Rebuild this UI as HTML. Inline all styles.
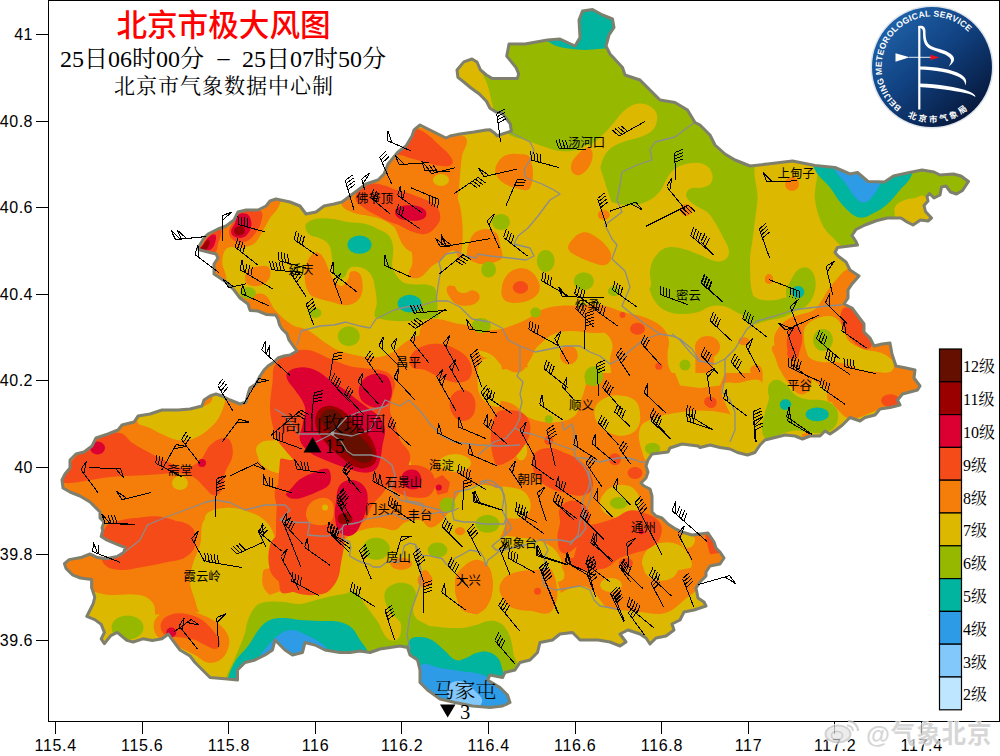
<!DOCTYPE html>
<html><head><meta charset="utf-8"><title>北京市极大风图</title>
<style>html,body{margin:0;padding:0;background:#fff;}body{width:1000px;height:756px;position:relative;overflow:hidden;}</style>
</head><body>
<svg width="1000" height="756" viewBox="0 0 1000 756" style="position:absolute;left:0;top:0">
<defs>
<clipPath id="bj"><polygon points="457,70 463.8,61.9 472,59 477,62 480.5,70 486.4,75 492.4,78.6 502,78.6 511.4,78.6 517.4,78.6 518.6,73.8 516.2,67.9 511.4,61.9 506.7,56 507.9,50 509,44 525,44 547.5,40 560,39 575,46 580,37.5 579,20 582.5,11 592.5,9.5 602.5,15 612.5,19 614,27.5 609,35 606,46 610,54 622.5,67.5 625,75 640,80 647.5,87.5 660,100 675,102.5 687.5,110 695,122.5 700,125 710,135 715,145 725,154 735,160 750,166 767.5,164 792.5,161 815,165.5 835,167.5 850,174 857.5,172.5 868,181.5 884.5,182 893.5,176 907,173 922,170 934,172 940,175 953.5,174 961,176 968.5,181.5 965.5,186 962.5,190.5 956.5,194 950.5,192 946,186 941.5,187 940,195 934,198 929.5,193.5 927,196.5 928,201 924,205.5 925.5,211.5 931.5,218 928,221 920.5,220 913,225 907,222 901,218 887.5,218 877,220.5 865,225 856,229.5 852,235.5 856,241.5 857.5,245 837.5,247.5 835,252.5 838,256 846,262 850,270 859,276 852,284 848,290 848,298 844,304 852,308 858,316 864,324 864,332 870,338 874,346 882,344 890,343 892,354 896,366 906,368 915,370 914,378 920,386 917.5,390 902.5,394 897.5,400 900,405 890,407.5 880,409 875,415 865,417.5 860,421 850,417.5 842.5,425 836,430 830,434 825,431 820,436 810,436 802.5,439 795,436 785,435 775,437.5 765,440 760,445 755,452.5 747.5,455 737.5,452.5 730,449 720,447.5 710,445 700,447.5 698,446 682,444 670,448 668,452 660,453 652,454 648,460 646,466 648,472 646,478 641,483 644,486 650,489 652,496 652,506 652,512 656,516 662,518 668,524 674,528 682,532 692,535 700,534 708,533 714,542 716,548 720,552 724,558 720,564 710,566 706,572 706,576 700,582 696,588 698,598 704,602 706,606 694,610 684,612 680,620 672,624 674,630 666,636 656,638 650,644 646,638 640,634 628,630 620,634 626,642 620,646 610,642 598,640 590,640 580,640 572.5,632.5 560,634 552.5,640 540,642.5 537.5,652.5 530,660 520,662.5 515,670 505,672.5 502.5,677.5 490,675 487.5,680 500,687.5 507.5,695 510,702.5 502.5,706 490,707.5 472.5,706 455,702.5 440,699 427.5,690 420,682.5 420,670 417.5,660 410,655 407.5,647.5 400,646 390,647.5 380,649 370,652.5 360,651 350,652.5 340,652.5 325,650 315,645 305,642.5 302.5,652.5 292.5,655 285,650 275,640 272.5,650 265,655 255,660 245,662.5 237.5,670 237.5,680 227.5,679 210,677.5 202.5,670 195,662.5 190,656 180,650 171.6,638.8 168.4,634 162,638.8 152.4,640.4 142.8,638.8 133.2,642 126.8,640.4 117.2,632.4 110.8,635.6 104.4,643.6 101.2,638.8 104.4,632.4 101.2,624.4 94.8,619.6 86.8,616.4 90,610 93.2,603.6 94.8,597.2 91.6,587.6 91.6,579.6 80.4,578 72.4,574.8 66,568.4 64.4,563.6 69.2,559.6 82,557.2 90,554 96.4,557.2 106,558.8 117.2,556.4 123.6,552.4 125.2,547.6 117.2,544.4 106,539.6 101.2,536.4 102.8,530 102,528 104,522 100,518 100,512 90,502 80,496 70,492 63,488 62,480 65,474 70,468 70,460 76,454 84,452 92,446 96,438 108,434 118,430 122,425 134,422 138,416 150,414 162,410 178,410 190,409 202,406 204,400 210,396 216,394 222,396 230,400 240,404 246,402 248,394 250,388 256,384 260,376 264,370 268,366 274,362 278,358 284,356 290,355 297,351 293,345.6 289,340 286.8,333.6 282,329 279.6,325 278,319 275.6,315 266,314.4 258,311 250,310.4 248,304 240,298 234,290 226,282 220,278 214,274 214,264 218,258 216,254 208,252 200,250 198,248 204,238 208,234 218,229 226,226 234,220 238,212 246,210 258,210 266,206 270,201 276,199 290,202 300,206 306,214 316,212 324,206 334,204 342,202 350,196 358,190 366,184 378,180 384,174 388,164 398,152 406,146 412,136 414,130 420,125 430,130 438,134 446,138 450,136 460,134 474,132 486,130 490,129.8 494.8,133.3 497,135.7 511.4,131 510.2,123.8 506.7,119 502,113 496,112 490,108.3 486.4,101.2 479.3,94 471,88 463.8,82 457.9,77.4"/></clipPath>
<linearGradient id="lg" x1="0.15" y1="0.1" x2="0.85" y2="0.9"><stop offset="0" stop-color="#1f62a8"/><stop offset="0.45" stop-color="#114282"/><stop offset="1" stop-color="#06173a"/></linearGradient>
</defs>
<g clip-path="url(#bj)">
<rect x="0" y="0" width="1000" height="756" fill="#dcb900"/>
<path d="M470.0,40.0C472.3,53.2 478.2,62.5 483.0,75.0C484.5,78.9 486.4,81.7 487.6,85.7C490.2,94.1 490.9,101.1 493.6,109.5C495.4,115.3 496.7,119.9 500.0,125.0C502.8,129.3 505.6,132.4 510.0,135.0C514.9,137.9 519.6,138.2 525.0,140.0C532.2,142.5 537.7,144.7 545.0,147.0C550.3,148.7 554.4,150.5 560.0,151.0C566.3,151.6 571.3,151.0 577.5,150.0C582.2,149.2 587.5,142.0 590.0,146.0C604.9,170.6 605.6,195.1 620.0,220.0C627.6,233.2 643.7,236.1 650.0,250.0C655.0,261.2 647.6,271.8 648.8,284.0C649.4,290.7 651.2,296.0 655.0,301.5C658.2,306.3 662.2,309.3 667.5,311.5C673.4,313.9 678.6,314.0 685.0,314.0C690.5,314.0 694.8,313.1 700.0,311.5C703.9,310.3 706.1,307.3 710.0,306.5C715.3,305.4 719.8,305.2 725.0,306.5C730.9,308.0 734.4,311.7 740.0,314.0C745.3,316.2 749.3,319.0 755.0,319.0C762.4,319.0 767.8,315.6 775.0,314.0C784.0,312.0 791.1,311.3 800.0,309.0C810.9,306.2 819.5,304.0 830.0,300.0C837.5,297.1 845.3,296.5 850.0,290.0C860.4,275.7 853.0,250.1 870.0,245.0C914.8,231.6 978.1,286.3 1000.0,245.0C1041.3,167.1 1080.1,37.0 1000.0,0.0C826.8,-80.1 660.3,-14.4 470.0,0.0C455.6,1.1 467.5,25.8 470.0,40.0Z" fill="#96b900"/>
<path d="M525.0,152.5C525.0,143.5 541.0,151.2 550.0,151.2C555.4,151.2 559.6,152.7 565.0,152.5C569.6,152.3 573.1,151.3 577.5,150.0C582.1,148.6 585.9,147.6 590.0,145.0C595.4,141.6 599.1,138.2 603.8,133.8C608.1,129.6 611.0,125.8 615.0,121.2C618.6,117.2 620.7,113.3 625.0,110.0C629.0,106.9 632.5,104.5 637.5,103.8C642.0,103.1 646.0,104.0 650.0,106.2C653.5,108.3 656.3,111.0 657.0,115.0C657.8,120.0 656.6,124.5 653.8,128.8C651.0,132.8 647.0,134.3 642.5,136.2C636.5,138.9 631.1,138.9 625.0,141.2C619.4,143.4 614.6,144.9 610.0,148.8C606.3,151.9 604.3,155.5 602.5,160.0C600.5,165.1 600.0,169.5 599.5,175.0C599.1,179.5 598.8,183.2 600.0,187.5C601.3,192.0 602.9,195.6 606.2,198.8C609.5,201.8 613.2,202.7 617.5,203.8C622.8,205.0 627.1,205.4 632.5,205.0C638.0,204.5 642.5,203.7 647.5,201.2C652.7,198.7 656.3,195.7 660.0,191.2C663.6,186.9 664.4,182.2 667.5,177.5C669.8,174.0 671.6,171.1 675.0,168.8C679.0,166.0 682.7,164.6 687.5,163.8C692.8,162.8 697.4,162.1 702.5,163.8C706.5,165.0 709.5,167.5 711.2,171.2C713.0,174.9 713.2,178.9 711.2,182.5C709.5,185.7 706.0,186.5 702.5,187.5C698.2,188.8 694.0,186.6 690.0,188.8C687.3,190.2 685.4,193.4 686.2,196.2C687.6,200.5 691.5,202.3 695.0,205.0C699.2,208.2 703.6,209.0 707.5,212.5C710.9,215.5 712.6,218.7 715.0,222.5C718.0,227.3 720.0,231.2 722.5,236.2C724.9,241.1 727.9,244.6 728.8,250.0C729.3,253.2 728.7,256.6 726.2,258.8C723.5,261.2 719.9,261.8 716.2,261.2C710.0,260.4 705.9,257.2 700.0,255.0C693.7,252.7 689.0,250.3 682.5,248.8C677.2,247.5 672.8,246.4 667.5,247.5C663.3,248.3 660.3,250.6 657.5,253.8C653.8,258.0 651.5,262.1 650.0,267.5C647.9,275.0 655.1,287.4 647.5,289.0C613.2,296.4 573.4,315.1 550.0,289.0C516.6,251.8 525.0,202.5 525.0,152.5Z" fill="#dcb900"/>
<path d="M440.0,50.0C446.1,37.2 465.8,52.9 478.0,60.0C482.9,62.9 481.0,69.7 483.0,75.0C484.5,78.9 486.4,81.7 487.6,85.7C490.2,94.1 490.9,101.1 493.6,109.5C495.4,115.3 498.8,119.1 500.0,125.0C501.1,130.3 505.2,138.7 500.0,140.0C479.0,145.2 452.0,158.0 440.0,140.0C422.0,113.0 426.1,79.3 440.0,50.0Z" fill="#dcb900"/>
<path d="M760.0,160.0C775.1,148.9 796.9,149.0 812.0,160.0C823.7,168.5 812.7,185.7 815.0,200.0C816.5,209.3 818.3,216.6 822.5,225.0C825.6,231.3 830.3,234.8 835.0,240.0C838.4,243.8 841.6,246.2 845.0,250.0C848.8,254.2 853.4,256.6 855.0,262.0C859.0,275.2 870.5,291.0 860.0,300.0C843.4,314.2 821.6,305.5 800.0,309.0C790.9,310.5 784.0,315.8 775.0,314.0C766.4,312.3 758.8,307.9 755.0,300.0C749.1,287.7 750.6,276.1 750.0,262.5C749.7,254.4 751.5,248.1 752.5,240.0C754.2,225.6 756.1,214.4 757.5,200.0C758.8,185.6 748.4,168.5 760.0,160.0Z" fill="#dcb900"/>
<path d="M895.0,216.0C895.0,212.8 893.6,209.9 895.0,207.0C896.5,203.9 899.4,202.4 902.5,201.0C906.5,199.1 910.1,198.9 914.5,198.0C918.2,197.3 922.4,193.7 925.0,196.5C929.0,201.0 926.4,207.2 928.0,213.0C928.6,215.3 930.6,216.6 931.0,219.0C931.7,222.9 934.8,228.8 931.0,230.0C918.6,233.8 907.1,234.7 895.0,230.0C890.3,228.2 895.0,221.0 895.0,216.0Z" fill="#dcb900"/>
<path d="M575.0,157.5C578.9,153.3 582.0,149.1 587.5,147.5C589.9,146.8 592.1,150.0 592.5,152.5C593.1,157.0 592.2,161.0 590.0,165.0C587.5,169.5 584.7,173.0 580.0,175.0C577.4,176.1 574.4,174.6 572.5,172.5C570.7,170.4 570.8,167.7 571.2,165.0C571.7,162.0 572.9,159.7 575.0,157.5Z" fill="#f57d0a"/>
<ellipse cx="603.8" cy="215.0" rx="6.0" ry="5.0" fill="#f57d0a"/>
<path d="M570.0,242.5C573.6,238.0 576.9,233.9 582.5,232.5C587.1,231.4 591.0,233.8 595.0,236.2C600.2,239.4 603.8,242.7 607.5,247.5C609.8,250.6 611.8,253.7 611.2,257.5C610.8,261.0 608.4,264.1 605.0,265.0C600.6,266.2 596.9,263.9 592.5,262.5C586.9,260.7 582.7,259.0 577.5,256.2C574.1,254.4 570.6,253.4 568.8,250.0C567.4,247.6 568.3,244.7 570.0,242.5Z" fill="#f57d0a"/>
<ellipse cx="686.2" cy="210.0" rx="6.0" ry="6.0" fill="#f57d0a"/>
<ellipse cx="768.8" cy="279.5" rx="4.0" ry="4.0" fill="#f57d0a"/>
<ellipse cx="792.0" cy="184.0" rx="7.0" ry="7.0" fill="#f57d0a"/>
<path d="M282.9,195.0C285.8,195.3 281.5,199.9 280.4,202.5C279.3,205.3 278.3,207.6 276.7,210.1C274.7,213.0 272.4,214.7 270.4,217.6C268.3,220.6 267.2,223.2 265.4,226.4C263.5,229.6 262.2,232.1 260.3,235.2C258.6,238.0 257.7,240.6 255.3,242.7C253.0,244.8 250.7,245.6 247.8,246.5C244.7,247.4 242.2,247.6 239.0,247.8C235.8,247.9 233.3,246.6 230.2,247.1C228.1,247.5 226.4,248.5 225.2,250.3C223.5,252.6 223.1,255.0 222.6,257.8C222.2,260.5 222.2,262.7 222.6,265.4C223.1,268.2 224.7,270.1 225.2,272.9C225.6,275.6 227.5,279.1 225.2,280.4C219.6,283.6 213.6,285.0 207.6,282.9C201.5,280.9 195.9,276.7 195.0,270.4C191.2,243.5 174.4,212.7 195.0,195.0C219.0,174.4 251.4,192.2 282.9,195.0Z" fill="#f57d0a"/>
<path d="M247.8,270.4C250.4,267.5 254.0,267.3 257.8,266.6C261.4,265.9 264.6,265.0 267.9,266.6C270.0,267.7 270.4,270.5 270.4,272.9C270.4,275.7 269.7,278.2 267.9,280.4C265.8,283.0 263.5,284.6 260.3,285.5C256.8,286.4 253.7,286.6 250.3,285.5C247.8,284.6 245.7,283.0 245.3,280.4C244.6,276.7 245.3,273.1 247.8,270.4Z" fill="#f57d0a"/>
<path d="M341.6,204.4C340.5,199.9 344.0,195.5 348.0,193.2C355.7,188.7 363.1,187.4 372.0,186.8C397.9,185.1 418.7,181.3 444.0,186.8C452.8,188.7 458.2,197.2 460.0,206.0C464.2,226.3 462.9,243.1 460.0,263.6C459.3,268.7 458.7,251.6 453.6,250.8C447.9,249.9 445.5,257.1 440.8,260.4C437.4,262.8 434.4,264.1 431.2,266.8C427.4,269.9 425.8,273.9 421.6,276.4C418.6,278.2 415.4,278.8 412.0,278.0C410.0,277.5 408.8,275.3 408.8,273.2C408.8,270.1 411.5,268.3 412.0,265.2C412.7,261.2 412.5,258.0 412.0,254.0C411.4,249.3 411.2,245.3 408.8,241.2C406.4,237.0 402.8,234.9 399.2,231.6C395.9,228.6 393.3,226.1 389.6,223.6C386.4,221.5 383.6,220.1 380.0,218.8C375.5,217.2 371.8,216.7 367.2,215.6C362.0,214.4 357.7,214.5 352.8,212.4C348.3,210.4 342.8,209.2 341.6,204.4Z" fill="#f57d0a"/>
<path d="M309.6,257.2C311.7,254.5 314.3,252.0 317.6,252.4C320.8,252.8 322.3,256.1 324.0,258.8C326.4,262.5 327.0,266.0 328.8,270.0C330.4,273.5 331.2,276.6 333.6,279.6C335.9,282.5 337.9,286.0 341.6,286.0C344.9,286.0 346.2,282.3 348.0,279.6C349.7,277.0 348.5,273.1 351.2,271.6C353.8,270.1 357.1,271.1 359.2,273.2C361.8,275.8 362.0,279.2 362.4,282.8C362.9,286.8 362.9,290.2 361.6,294.0C360.5,297.3 358.9,300.0 356.0,302.0C352.5,304.3 349.0,305.2 344.8,305.2C340.1,305.2 336.6,303.2 332.0,302.0C327.4,300.8 323.7,300.4 319.2,298.8C315.6,297.5 311.9,297.1 309.6,294.0C306.3,289.6 305.4,285.0 304.8,279.6C304.3,275.0 305.4,271.3 306.4,266.8C307.2,263.2 307.4,260.1 309.6,257.2Z" fill="#f57d0a"/>
<path d="M406.0,136.0C408.4,132.7 410.0,129.0 414.0,128.0C419.6,126.6 424.3,128.7 430.0,130.0C437.3,131.6 442.7,134.4 450.0,136.0C455.7,137.3 463.0,133.0 466.0,138.0C469.4,143.7 463.0,149.4 462.0,156.0C460.9,163.1 460.7,168.8 460.0,176.0C459.3,183.2 459.2,188.9 458.0,196.0C457.0,201.9 455.1,206.2 454.0,212.0C452.9,217.7 452.8,222.3 452.0,228.0C451.4,232.3 450.7,235.7 450.0,240.0C449.3,244.0 451.9,250.1 448.0,251.2C434.8,254.9 422.0,257.7 410.0,251.2C398.3,244.9 398.8,230.0 390.0,220.0C380.6,209.2 363.2,207.9 360.0,194.0C357.9,184.6 373.6,183.3 380.0,176.0C384.5,170.9 386.3,165.7 390.0,160.0C395.7,151.3 399.8,144.3 406.0,136.0Z" fill="#f57d0a"/>
<path d="M496.0,166.0C497.9,161.8 500.0,158.2 504.0,156.0C508.5,153.6 512.9,153.6 518.0,154.0C522.5,154.3 528.5,153.7 530.0,158.0C533.6,168.2 534.6,178.2 530.0,188.0C527.9,192.6 520.9,189.1 516.0,188.0C510.6,186.9 506.5,185.1 502.0,182.0C499.1,179.9 497.3,177.4 496.0,174.0C495.0,171.3 494.8,168.6 496.0,166.0Z" fill="#f57d0a"/>
<path d="M470.0,240.0C471.6,235.2 475.2,231.6 480.0,230.0C485.2,228.3 490.5,228.9 495.0,232.0C498.8,234.7 499.2,239.4 500.0,244.0C501.0,249.7 505.1,257.3 500.0,260.0C490.5,265.1 479.0,266.0 470.0,260.0C464.0,256.0 467.7,246.8 470.0,240.0Z" fill="#f57d0a"/>
<path d="M250.0,295.0C255.3,294.0 260.4,292.2 265.0,295.0C270.6,298.3 270.6,305.2 275.0,310.0C280.6,316.1 285.4,320.7 292.5,325.0C297.3,328.0 302.5,327.3 307.5,330.0C314.3,333.7 318.6,338.2 325.0,342.5C329.4,345.4 332.7,348.0 337.5,350.0C343.5,352.5 348.6,353.7 355.0,355.0C362.1,356.4 367.8,358.0 375.0,357.5C381.5,357.1 386.6,355.4 392.5,352.5C397.7,349.9 400.1,345.6 405.0,342.5C410.1,339.3 414.2,336.7 420.0,335.0C427.0,333.0 432.8,332.1 440.0,332.5C448.3,333.0 454.9,334.2 462.5,337.5C467.8,339.8 470.7,343.7 475.0,347.5C478.8,350.9 480.0,356.5 485.0,357.5C499.1,360.3 521.1,343.6 525.0,357.5C538.9,406.9 571.0,477.2 525.0,500.0C432.3,546.0 322.5,559.1 237.5,500.0C178.4,458.9 233.1,371.9 237.5,300.0C237.8,295.2 245.2,295.9 250.0,295.0Z" fill="#f57d0a"/>
<path d="M37.5,390.5C82.6,339.4 157.2,372.0 225.0,365.5C251.9,362.9 280.9,346.4 300.0,365.5C322.5,388.0 310.6,421.2 312.5,453.0C315.1,497.9 353.5,559.4 312.5,578.0C222.4,619.0 119.3,633.8 37.5,578.0C-18.3,540.0 -7.2,441.1 37.5,390.5Z" fill="#f57d0a"/>
<polygon points="495,373 762.5,373 762.5,578 495,578" fill="#f57d0a"/>
<polygon points="536,556 720,556 720,620 536,620" fill="#f57d0a"/>
<path d="M625.0,312.5C632.2,314.5 638.1,314.7 645.0,317.5C651.7,320.2 657.2,322.5 662.5,327.5C666.2,331.0 667.9,335.1 668.8,340.0C669.7,345.3 667.3,349.6 667.5,355.0C667.7,360.5 667.5,365.2 670.0,370.0C672.2,374.2 675.5,377.1 680.0,378.8C686.8,381.3 692.8,380.1 700.0,381.2C707.2,382.4 712.9,383.2 720.0,385.0C725.5,386.4 729.7,387.8 735.0,390.0C740.6,392.3 745.0,394.2 750.0,397.5C754.5,400.5 758.8,402.7 761.2,407.5C762.9,410.7 761.8,414.3 760.0,417.5C757.5,421.9 754.9,426.0 750.0,427.5C744.8,429.1 740.3,426.5 735.0,425.0C729.4,423.4 725.8,419.7 720.0,418.8C714.7,417.9 710.4,420.4 705.0,420.0C699.5,419.5 695.5,416.7 690.0,416.2C684.6,415.8 680.1,415.7 675.0,417.5C670.8,419.0 668.6,422.3 665.0,425.0C661.4,427.7 659.1,430.7 655.0,432.5C651.7,434.0 648.4,434.9 645.0,433.8C641.1,432.4 638.6,429.6 636.2,426.2C633.1,421.8 632.5,417.3 630.0,412.5C627.6,407.9 625.0,404.6 622.5,400.0C620.1,395.6 618.2,392.2 616.2,387.5C614.1,382.2 612.5,378.1 611.2,372.5C610.2,368.1 609.8,364.5 610.0,360.0C610.2,354.5 613.0,350.4 612.5,345.0C612.1,341.0 610.3,337.8 607.5,335.0C604.7,332.2 601.4,331.0 597.5,330.0C592.2,328.7 587.9,328.8 582.5,328.8C576.2,328.8 571.3,329.4 565.0,330.0C557.8,330.7 550.5,337.3 545.0,332.5C539.6,327.8 539.6,317.2 545.0,312.5C553.3,305.2 564.1,307.7 575.0,306.2C583.9,305.0 591.1,303.9 600.0,305.0C609.3,306.2 615.9,310.0 625.0,312.5Z" fill="#f57d0a"/>
<ellipse cx="707.5" cy="347.0" rx="12.5" ry="11.0" fill="#f57d0a"/>
<ellipse cx="568.8" cy="355.0" rx="9.0" ry="9.5" fill="#f57d0a"/>
<ellipse cx="743.8" cy="341.2" rx="5.5" ry="4.0" fill="#f57d0a"/>
<ellipse cx="757.5" cy="372.5" rx="5.0" ry="5.0" fill="#f57d0a"/>
<path d="M774.0,340.0C774.0,334.5 776.8,330.4 780.0,326.0C782.7,322.3 786.0,320.2 790.0,318.0C794.0,315.8 797.7,315.4 802.0,314.0C806.3,312.6 810.3,312.6 814.0,310.0C817.8,307.4 819.4,303.8 822.0,300.0C824.4,296.6 825.6,293.4 828.0,290.0C830.6,286.2 832.9,283.4 836.0,280.0C839.4,276.2 841.5,272.4 846.0,270.0C854.0,265.7 864.1,255.1 870.0,262.0C881.4,275.4 877.6,292.5 880.0,310.0C881.2,318.6 877.6,325.7 880.0,334.0C881.4,338.9 887.2,339.7 890.0,344.0C893.8,350.0 893.5,356.6 898.0,362.0C901.1,365.7 906.1,365.2 910.0,368.0C914.1,371.0 918.6,373.1 920.0,378.0C922.4,386.3 928.3,399.8 920.0,402.0C888.7,410.3 862.1,406.1 830.0,402.0C825.5,401.4 828.6,393.7 826.0,390.0C823.4,386.2 819.6,384.9 816.0,382.0C812.4,379.1 809.7,376.8 806.0,374.0C803.9,372.4 802.1,371.6 800.0,370.0C796.3,367.2 793.6,364.9 790.0,362.0C786.4,359.1 782.7,357.7 780.0,354.0C776.8,349.6 774.0,345.5 774.0,340.0Z" fill="#f57d0a"/>
<ellipse cx="769.0" cy="279.0" rx="4.0" ry="5.0" fill="#f57d0a"/>
<ellipse cx="756.0" cy="370.0" rx="6.0" ry="5.0" fill="#f57d0a"/>
<path d="M695.4,382.2C698.5,376.3 707.1,379.4 713.8,379.9C719.0,380.3 722.6,383.0 727.6,384.5C734.1,386.4 739.6,386.8 746.0,389.1C751.2,390.9 755.8,392.1 759.8,396.0C762.9,399.1 763.9,403.0 764.4,407.5C764.8,411.7 763.8,415.1 762.1,419.0C760.4,422.7 758.3,425.5 755.2,428.2C752.4,430.6 749.7,433.1 746.0,432.8C740.5,432.2 736.9,428.7 732.2,425.9C728.6,423.7 726.8,420.5 723.0,419.0C718.3,417.1 714.2,417.5 709.2,416.7C704.2,415.8 697.3,419.0 695.4,414.4C691.1,403.6 689.9,392.4 695.4,382.2Z" fill="#f57d0a"/>
<polygon points="695.402,345.402 713.793,345.402 713.793,363.793 709.195,375.287 695.402,377.586" fill="#f57d0a"/>
<path d="M773.6,345.4C785.9,340.5 798.0,340.6 810.3,345.4C816.0,347.6 814.5,355.5 814.9,361.5C815.4,367.3 814.0,371.9 812.6,377.6C811.5,382.7 811.5,387.4 808.0,391.4C805.8,394.0 802.0,394.9 798.9,393.7C794.5,392.0 792.6,388.1 789.7,384.5C785.9,379.8 783.3,375.9 780.5,370.7C778.3,366.8 777.0,363.5 775.9,359.2C774.5,354.3 768.9,347.3 773.6,345.4Z" fill="#f57d0a"/>
<polygon points="847.126,345.402 890.805,345.402 893.103,361.494 879.31,363.793 860.92,361.494" fill="#f57d0a"/>
<path d="M828.7,389.1C831.8,384.8 837.3,384.9 842.5,384.5C849.2,384.0 854.2,386.8 860.9,386.8C869.2,386.8 875.9,386.8 883.9,384.5C890.3,382.6 894.5,379.1 900.0,375.3C902.9,373.3 903.4,368.7 906.9,368.4C915.3,367.7 923.6,367.3 929.9,373.0C934.2,376.9 934.0,385.0 929.9,389.1C923.8,395.2 914.6,392.1 906.9,396.0C902.7,398.1 901.9,403.1 897.7,405.2C893.2,407.4 888.8,406.1 883.9,407.5C879.6,408.6 876.6,410.4 872.4,412.1C868.3,413.7 865.2,415.4 860.9,416.7C856.9,417.9 853.5,420.2 849.4,419.0C844.3,417.4 841.7,413.5 837.9,409.8C835.0,406.8 832.7,404.4 831.0,400.6C829.3,396.7 826.3,392.5 828.7,389.1Z" fill="#f57d0a"/>
<ellipse cx="757.5" cy="371.8" rx="4.0" ry="4.0" fill="#f57d0a"/>
<ellipse cx="806.9" cy="435.5" rx="5.0" ry="2.5" fill="#f57d0a"/>
<ellipse cx="441.0" cy="180.0" rx="8.0" ry="6.0" fill="#dcb900"/>
<path d="M480.0,362.5C482.0,359.0 486.1,358.5 490.0,357.5C493.5,356.6 499.3,354.0 500.0,357.5C503.5,374.2 503.5,388.3 500.0,405.0C499.3,408.5 493.2,406.6 490.0,405.0C485.4,402.7 482.3,399.6 480.0,395.0C477.6,390.1 477.5,385.5 477.5,380.0C477.5,373.6 476.9,368.1 480.0,362.5Z" fill="#dcb900"/>
<path d="M260.0,450.0C262.5,445.9 265.4,442.6 270.0,441.2C275.2,439.7 280.2,440.1 285.0,442.5C289.0,444.5 291.6,448.1 292.5,452.5C293.6,457.9 293.3,463.1 290.0,467.5C287.1,471.4 282.3,472.5 277.5,472.5C272.7,472.5 269.0,470.2 265.0,467.5C262.1,465.6 259.7,463.4 258.8,460.0C257.8,456.5 258.1,453.1 260.0,450.0Z" fill="#dcb900"/>
<path d="M390.0,460.0C391.3,457.0 394.3,455.5 397.5,455.0C401.2,454.5 404.6,455.2 407.5,457.5C410.2,459.7 411.2,462.8 411.2,466.2C411.2,469.7 410.3,473.0 407.5,475.0C404.6,477.1 401.0,477.0 397.5,476.2C394.5,475.6 391.8,474.1 390.5,471.2C388.8,467.6 388.4,463.7 390.0,460.0Z" fill="#dcb900"/>
<path d="M137.5,420.5C139.7,414.0 148.4,414.7 155.0,413.0C166.5,410.1 175.9,410.1 187.5,408.0C195.7,406.5 203.3,407.9 210.0,403.0C214.6,399.7 210.3,391.2 215.0,388.0C218.3,385.8 224.3,389.0 225.0,393.0C226.5,401.2 223.3,407.9 220.0,415.5C217.7,420.8 214.3,424.1 210.0,428.0C205.2,432.3 201.0,435.5 195.0,438.0C189.9,440.1 185.5,441.0 180.0,440.5C174.3,440.0 170.3,437.7 165.0,435.5C159.4,433.2 155.3,430.9 150.0,428.0C145.4,425.5 135.8,425.5 137.5,420.5Z" fill="#dcb900"/>
<ellipse cx="180.0" cy="483.0" rx="8.0" ry="7.0" fill="#dcb900"/>
<path d="M257.5,445.5C260.6,441.8 265.2,440.5 270.0,440.5C275.7,440.5 280.5,442.0 285.0,445.5C289.1,448.7 291.5,452.9 292.5,458.0C293.4,462.5 293.2,467.3 290.0,470.5C286.8,473.7 282.0,473.9 277.5,473.0C272.4,472.0 268.9,469.0 265.0,465.5C261.6,462.5 259.1,459.7 257.5,455.5C256.2,452.1 255.2,448.3 257.5,445.5Z" fill="#dcb900"/>
<path d="M207.5,513.0C212.7,509.1 218.5,508.4 225.0,508.0C232.2,507.5 238.1,508.3 245.0,510.5C252.7,512.9 259.1,515.1 265.0,520.5C270.3,525.4 272.9,531.1 275.0,538.0C276.6,543.2 275.9,547.7 275.0,553.0C274.1,558.6 275.5,566.5 270.0,568.0C252.6,572.7 237.4,572.7 220.0,568.0C214.5,566.5 216.8,558.4 215.0,553.0C213.2,547.6 211.8,543.4 210.0,538.0C208.2,532.6 205.6,528.7 205.0,523.0C204.6,519.3 204.5,515.2 207.5,513.0Z" fill="#dcb900"/>
<path d="M277.5,595.0C281.2,585.6 295.1,592.0 305.0,590.0C313.1,588.4 320.7,589.7 327.5,585.0C333.5,580.9 335.1,574.3 337.5,567.5C339.6,561.5 338.0,556.0 340.0,550.0C341.7,545.0 343.6,541.0 347.5,537.5C352.0,533.5 356.7,531.8 362.5,530.0C368.6,528.1 373.6,527.5 380.0,527.5C385.5,527.5 389.6,531.1 395.0,530.0C399.4,529.1 400.8,524.2 405.0,522.5C410.1,520.5 414.6,518.9 420.0,520.0C424.4,520.9 425.5,526.9 430.0,527.5C434.0,528.0 437.0,525.2 440.0,522.5C444.3,518.7 446.8,514.8 450.0,510.0C454.0,504.0 454.6,497.4 460.0,492.5C465.1,487.9 470.7,486.0 477.5,485.0C483.8,484.1 489.2,484.9 495.0,487.5C499.6,489.6 502.9,492.9 505.0,497.5C507.6,503.3 508.0,508.7 507.5,515.0C507.0,521.5 505.0,526.5 502.5,532.5C500.5,537.3 497.5,540.4 495.0,545.0C493.0,548.5 489.5,551.0 490.0,555.0C490.6,559.5 493.9,562.3 497.5,565.0C501.4,567.9 505.2,569.6 510.0,570.0C516.3,570.5 521.2,568.2 527.5,567.5C536.5,566.4 550.1,556.3 552.5,565.0C561.4,598.0 584.8,648.8 552.5,660.0C458.9,692.3 373.8,682.8 277.5,660.0C254.7,654.6 268.9,616.8 277.5,595.0Z" fill="#dcb900"/>
<path d="M77.5,595.0C84.6,585.7 98.3,595.0 110.0,595.0C120.8,595.0 129.4,593.1 140.0,595.0C145.2,595.9 149.4,598.3 152.5,602.5C155.3,606.2 155.0,610.4 155.0,615.0C155.0,619.6 153.8,623.1 152.5,627.5C151.1,632.1 151.4,637.1 147.5,640.0C143.1,643.3 138.0,642.5 132.5,642.5C126.1,642.5 121.3,640.5 115.0,640.0C109.6,639.6 105.4,640.4 100.0,640.0C91.9,639.5 81.1,644.8 77.5,637.5C70.7,623.8 68.2,607.2 77.5,595.0Z" fill="#dcb900"/>
<path d="M207.5,517.5C222.8,509.9 238.6,512.5 255.0,517.5C261.9,519.6 262.5,528.2 265.0,535.0C267.5,541.9 269.2,547.7 268.8,555.0C268.3,562.5 263.3,567.5 262.5,575.0C261.9,580.4 261.9,585.5 265.0,590.0C268.7,595.3 273.8,597.9 280.0,600.0C287.7,602.6 294.4,602.2 302.5,602.5C316.0,603.1 335.9,589.6 340.0,602.5C352.9,642.8 372.6,693.1 340.0,720.0C300.4,752.6 246.3,735.7 197.5,720.0C182.1,715.0 197.1,691.0 200.0,675.0C200.8,670.6 203.8,667.5 207.5,665.0C212.2,661.8 218.4,663.9 222.5,660.0C226.8,656.0 228.3,650.8 228.8,645.0C229.2,639.5 227.7,634.9 225.0,630.0C222.5,625.5 219.2,622.9 215.0,620.0C210.1,616.5 204.3,616.8 200.0,612.5C196.6,609.1 196.5,604.6 195.0,600.0C192.9,593.8 190.5,589.0 190.0,582.5C189.5,576.2 190.9,571.1 192.5,565.0C194.5,557.6 197.7,552.3 200.0,545.0C203.1,535.2 198.3,522.1 207.5,517.5Z" fill="#dcb900"/>
<path d="M487.5,373.0C522.2,363.5 551.9,367.5 587.5,373.0C592.9,373.8 586.3,382.7 585.0,388.0C583.6,393.5 581.9,397.7 580.0,403.0C578.3,407.6 578.5,412.2 575.0,415.5C570.7,419.5 565.7,420.6 560.0,421.8C553.8,422.9 548.7,422.9 542.5,421.8C535.9,420.6 530.8,418.9 525.0,415.5C520.6,412.9 519.4,408.1 515.0,405.5C510.1,402.6 505.6,401.5 500.0,400.5C495.6,399.7 489.4,404.6 487.5,400.5C483.4,391.5 478.0,375.6 487.5,373.0Z" fill="#dcb900"/>
<path d="M595.0,408.0C596.5,403.1 600.4,400.3 605.0,398.0C609.9,395.6 614.5,395.0 620.0,395.5C625.7,396.0 630.7,396.8 635.0,400.5C638.6,403.7 639.6,408.2 640.0,413.0C640.5,418.5 640.5,423.4 637.5,428.0C634.6,432.4 630.2,434.6 625.0,435.5C619.6,436.5 615.0,435.3 610.0,433.0C604.8,430.6 600.5,427.9 597.5,423.0C594.7,418.3 593.4,413.2 595.0,408.0Z" fill="#dcb900"/>
<path d="M640.0,428.0C642.2,421.9 649.0,420.6 655.0,418.0C661.8,415.1 667.7,414.2 675.0,413.0C683.9,411.5 691.0,410.5 700.0,410.5C709.0,410.5 716.1,411.3 725.0,413.0C730.6,414.0 734.4,417.2 740.0,418.0C748.0,419.1 758.5,410.9 762.5,418.0C769.6,430.6 770.1,445.8 762.5,458.0C757.7,465.6 746.4,459.2 737.5,458.0C732.7,457.4 729.8,453.6 725.0,453.0C716.1,451.8 709.0,453.0 700.0,453.0C691.0,453.0 683.9,451.8 675.0,453.0C670.2,453.6 667.0,456.2 662.5,458.0C658.0,459.8 654.7,464.2 650.0,463.0C645.6,461.9 643.7,457.3 642.5,453.0C640.0,444.3 637.0,436.5 640.0,428.0Z" fill="#dcb900"/>
<polygon points="675,373 725,373 720,385.5 700,388 680,385.5" fill="#dcb900"/>
<path d="M722.5,385.5C724.5,380.4 732.0,383.3 737.5,383.0C746.5,382.4 757.5,375.5 762.5,383.0C770.0,394.2 770.0,409.3 762.5,420.5C757.5,428.0 746.0,423.5 737.5,420.5C732.1,418.6 729.8,413.3 727.5,408.0C724.2,400.4 719.4,393.2 722.5,385.5Z" fill="#dcb900"/>
<path d="M602.5,495.5C605.4,491.7 608.1,488.5 612.5,486.8C617.5,484.7 622.2,484.2 627.5,485.5C631.9,486.6 635.1,489.2 637.5,493.0C639.9,496.9 641.0,501.0 640.0,505.5C639.0,509.9 636.4,513.3 632.5,515.5C627.7,518.2 623.0,518.5 617.5,518.0C612.7,517.6 608.7,516.2 605.0,513.0C601.9,510.4 600.6,507.0 600.0,503.0C599.6,500.2 600.8,497.8 602.5,495.5Z" fill="#dcb900"/>
<path d="M495.0,490.5C499.1,484.5 507.8,486.9 515.0,488.0C520.2,488.8 524.6,491.1 527.5,495.5C530.5,500.1 531.7,505.3 530.0,510.5C528.6,514.8 524.3,516.7 520.0,518.0C514.8,519.6 510.4,518.3 505.0,518.0C501.4,517.8 496.2,520.2 495.0,516.8C491.8,507.9 489.6,498.3 495.0,490.5Z" fill="#dcb900"/>
<path d="M495.0,540.5C502.7,532.8 514.2,537.5 525.0,538.0C532.4,538.4 538.3,539.9 545.0,543.0C550.2,545.4 554.5,548.1 557.5,553.0C560.3,557.7 565.3,566.7 560.0,568.0C537.2,573.5 516.6,577.1 495.0,568.0C485.9,564.1 488.0,547.5 495.0,540.5Z" fill="#dcb900"/>
<path d="M645.0,553.0C648.3,547.4 653.7,544.4 660.0,543.0C667.1,541.5 673.5,542.3 680.0,545.5C685.2,548.1 687.7,552.7 690.0,558.0C691.5,561.3 693.5,567.2 690.0,568.0C674.2,571.5 660.4,573.1 645.0,568.0C639.9,566.3 642.2,557.6 645.0,553.0Z" fill="#dcb900"/>
<ellipse cx="521.2" cy="450.5" rx="6.0" ry="10.0" fill="#dcb900"/>
<ellipse cx="585.0" cy="533.0" rx="4.0" ry="4.0" fill="#dcb900"/>
<ellipse cx="687.5" cy="540.5" rx="7.5" ry="7.5" fill="#dcb900"/>
<path d="M806.0,326.0C809.0,321.7 813.2,320.0 818.0,318.0C822.0,316.3 825.6,315.6 830.0,316.0C833.2,316.3 835.7,317.7 838.0,320.0C841.0,323.0 842.1,326.2 844.0,330.0C845.7,333.5 845.7,336.9 848.0,340.0C850.2,342.9 852.9,344.3 856.0,346.0C859.4,347.9 862.3,349.0 866.0,350.0C870.2,351.2 873.8,350.6 878.0,352.0C882.6,353.5 886.4,354.8 890.0,358.0C892.4,360.1 894.0,362.8 894.0,366.0C894.0,368.6 892.4,371.1 890.0,372.0C886.0,373.5 882.3,372.3 878.0,372.0C872.2,371.6 867.6,371.4 862.0,370.0C856.0,368.5 851.9,365.7 846.0,364.0C841.8,362.8 838.4,362.4 834.0,362.0C829.7,361.6 826.3,362.7 822.0,362.0C817.5,361.3 813.6,360.7 810.0,358.0C807.4,356.1 806.9,353.1 806.0,350.0C804.7,345.8 804.0,342.4 804.0,338.0C804.0,333.6 803.5,329.6 806.0,326.0Z" fill="#dcb900"/>
<path d="M536.0,608.0C537.7,601.8 546.5,603.3 552.0,600.0C557.3,596.8 560.5,592.8 566.0,590.0C570.7,587.7 574.8,586.0 580.0,586.0C584.6,586.0 588.3,587.4 592.0,590.0C595.8,592.6 596.9,596.6 600.0,600.0C602.7,603.0 604.4,606.2 608.0,608.0C611.9,610.0 615.7,609.5 620.0,610.0C627.2,610.9 632.8,611.3 640.0,612.0C647.2,612.7 652.8,614.5 660.0,614.0C664.5,613.7 668.1,612.3 672.0,610.0C676.9,607.2 679.6,603.5 684.0,600.0C686.8,597.8 689.1,596.2 692.0,594.0C694.9,591.8 696.8,589.6 700.0,588.0C706.9,584.5 717.9,572.5 720.0,580.0C727.7,607.7 746.4,648.5 720.0,660.0C659.3,686.4 599.7,678.0 536.0,660.0C518.0,654.9 531.2,626.1 536.0,608.0Z" fill="#dcb900"/>
<path d="M536.0,560.0C540.1,555.9 546.5,558.3 552.0,560.0C556.4,561.4 559.4,564.2 562.0,568.0C564.0,571.1 565.4,574.6 564.0,578.0C562.7,581.0 559.2,581.7 556.0,582.0C551.6,582.4 548.2,581.3 544.0,580.0C540.9,579.1 537.2,579.0 536.0,576.0C533.9,570.7 531.9,564.1 536.0,560.0Z" fill="#dcb900"/>
<ellipse cx="611.0" cy="585.0" rx="11.0" ry="7.0" fill="#dcb900"/>
<path d="M644.0,564.0C645.3,560.6 648.5,558.7 652.0,558.0C660.5,556.4 668.2,554.4 676.0,558.0C680.0,559.8 679.2,565.8 678.0,570.0C676.8,574.2 673.9,577.2 670.0,579.0C665.4,581.1 660.9,581.0 656.0,580.0C651.9,579.1 648.5,577.4 646.0,574.0C643.8,571.1 642.7,567.4 644.0,564.0Z" fill="#dcb900"/>
<ellipse cx="455.0" cy="463.0" rx="16.0" ry="9.0" fill="#dcb900"/>
<path d="M460.0,570.0C464.6,565.4 468.6,561.2 475.0,560.0C479.8,559.1 484.3,561.4 487.5,565.0C491.2,569.3 492.1,574.3 492.5,580.0C493.0,587.2 492.6,593.2 490.0,600.0C487.9,605.4 485.4,610.4 480.0,612.5C474.9,614.5 469.3,613.4 465.0,610.0C460.2,606.3 459.4,600.7 457.5,595.0C455.8,589.8 454.5,585.4 455.0,580.0C455.4,576.0 457.2,572.8 460.0,570.0Z" fill="#f57d0a"/>
<path d="M502.5,580.0C505.6,575.8 510.0,574.0 515.0,572.5C521.9,570.4 527.7,570.2 535.0,570.0C541.3,569.8 550.0,565.5 552.5,571.2C558.1,584.0 560.1,598.3 552.5,610.0C547.6,617.6 536.4,611.1 527.5,610.0C521.0,609.2 515.5,608.5 510.0,605.0C505.1,601.9 501.7,598.0 500.0,592.5C498.7,588.1 499.7,583.7 502.5,580.0Z" fill="#f57d0a"/>
<ellipse cx="400.0" cy="564.5" rx="7.5" ry="5.0" fill="#f57d0a"/>
<ellipse cx="425.0" cy="577.5" rx="5.0" ry="7.5" fill="#f57d0a"/>
<ellipse cx="432.5" cy="520.0" rx="7.5" ry="5.0" fill="#f57d0a"/>
<ellipse cx="460.0" cy="531.2" rx="5.0" ry="4.0" fill="#f57d0a"/>
<path d="M456.0,582.0C457.8,576.2 462.5,572.7 468.0,570.0C471.9,568.1 478.8,565.8 480.0,570.0C484.2,584.5 484.2,597.5 480.0,612.0C478.8,616.2 471.9,613.8 468.0,612.0C463.4,609.9 459.9,606.7 458.0,602.0C455.3,595.3 453.8,588.9 456.0,582.0Z" fill="#f57d0a"/>
<path d="M155.0,620.0C157.0,616.0 160.7,613.9 165.0,612.5C171.9,610.2 177.8,609.5 185.0,610.0C191.5,610.4 196.5,612.4 202.5,615.0C209.2,617.9 214.5,620.3 220.0,625.0C224.2,628.6 227.2,632.2 228.8,637.5C230.0,641.8 229.1,645.8 227.5,650.0C225.9,654.2 223.8,657.6 220.0,660.0C216.1,662.4 212.0,663.4 207.5,662.5C202.4,661.5 199.6,657.5 195.0,655.0C191.5,653.0 188.6,651.8 185.0,650.0C181.4,648.2 178.7,646.6 175.0,645.0C170.6,643.0 166.6,642.6 162.5,640.0C159.3,638.0 156.3,636.1 155.0,632.5C153.4,628.3 153.0,624.0 155.0,620.0Z" fill="#f57d0a"/>
<path d="M460.0,580.0C463.5,575.1 469.0,573.5 475.0,572.5C480.4,571.6 486.1,571.1 490.0,575.0C493.9,578.9 493.0,584.5 492.5,590.0C492.0,595.7 491.0,600.5 487.5,605.0C484.3,609.1 480.1,611.5 475.0,612.5C470.5,613.4 466.0,613.0 462.5,610.0C458.8,606.8 457.9,602.3 457.5,597.5C457.0,591.2 456.4,585.2 460.0,580.0Z" fill="#f57d0a"/>
<path d="M502.5,585.0C504.4,580.1 510.0,579.0 515.0,577.5C521.9,575.4 527.9,573.4 535.0,575.0C540.6,576.3 544.5,580.1 547.5,585.0C550.3,589.7 551.6,594.8 550.0,600.0C548.6,604.6 544.5,607.2 540.0,608.8C533.2,611.0 527.1,611.3 520.0,610.0C514.1,608.9 508.5,607.4 505.0,602.5C501.4,597.3 500.1,590.9 502.5,585.0Z" fill="#f57d0a"/>
<ellipse cx="425.0" cy="580.0" rx="7.5" ry="7.5" fill="#f57d0a"/>
<ellipse cx="401.2" cy="563.8" rx="11.0" ry="6.0" fill="#f57d0a"/>
<path d="M501.6,288.8C502.2,283.4 503.7,279.0 507.2,274.8C510.1,271.2 513.9,269.4 518.4,268.5C522.4,267.7 526.1,268.5 529.6,270.6C533.6,273.0 535.9,276.2 538.0,280.4C539.6,283.6 540.4,286.8 539.4,290.2C538.2,294.0 535.8,296.6 532.4,298.6C527.9,301.3 523.7,302.5 518.4,302.8C513.3,303.1 508.3,303.3 504.4,300.0C501.2,297.3 501.1,292.9 501.6,288.8Z" fill="#f57d0a"/>
<path d="M447.0,287.4C447.9,285.0 451.6,285.1 454.0,286.0C456.4,286.9 456.1,290.3 458.2,291.6C460.4,293.0 462.6,293.3 465.2,293.0C467.9,292.7 469.5,289.9 472.2,290.2C475.1,290.5 477.9,291.8 479.2,294.4C480.3,296.7 479.6,299.6 477.8,301.4C475.1,304.1 471.8,305.1 468.0,305.6C464.0,306.1 460.5,305.9 456.8,304.2C453.6,302.7 451.6,300.3 449.8,297.2C448.0,294.0 445.7,290.8 447.0,287.4Z" fill="#f57d0a"/>
<path d="M425.0,322.0C435.1,314.5 447.5,322.5 460.0,324.0C470.9,325.3 479.0,329.3 490.0,330.0C496.6,330.4 501.7,328.9 508.0,327.0C515.9,324.6 521.7,321.8 529.0,318.0C533.6,315.6 536.2,311.9 541.0,310.0C547.2,307.5 552.4,306.7 559.0,306.0C566.5,305.2 572.5,305.6 580.0,306.0C590.8,306.6 601.3,302.5 610.0,309.0C616.1,313.6 618.9,326.8 612.0,330.0C595.0,337.8 578.3,328.0 560.0,332.0C550.8,334.0 544.9,339.6 538.0,346.0C533.8,350.0 533.3,355.2 530.0,360.0C526.8,364.6 525.4,370.3 520.0,372.0C514.7,373.7 509.8,370.9 505.0,368.0C498.7,364.2 496.6,357.4 490.0,354.0C483.5,350.6 477.3,350.4 470.0,350.0C462.8,349.6 457.2,352.0 450.0,352.0C441.0,352.0 430.8,356.9 425.0,350.0C418.5,342.3 416.9,328.0 425.0,322.0Z" fill="#f57d0a"/>
<path d="M236.5,213.8C239.8,211.1 243.5,210.5 247.8,210.1C252.5,209.6 257.5,208.0 261.0,211.3C263.9,214.1 261.8,218.7 261.0,222.6C260.2,226.1 258.5,228.5 256.6,231.4C254.6,234.4 253.0,236.8 250.3,239.0C247.9,240.8 245.7,242.2 242.7,242.5C239.5,242.8 236.8,242.0 233.9,240.5C231.8,239.3 230.4,237.5 229.5,235.2C228.7,233.1 228.9,231.1 229.5,228.9C230.3,226.2 232.1,224.6 233.3,222.0C234.6,219.1 234.0,215.9 236.5,213.8Z" fill="#f54b19"/>
<path d="M195.0,247.8C196.3,246.5 198.6,248.8 200.0,247.8C202.6,245.8 203.0,242.7 205.1,240.2C207.5,237.3 209.5,235.0 212.6,232.7C215.0,230.9 217.2,228.0 220.1,228.9C222.3,229.6 221.1,232.9 220.8,235.2C220.4,238.0 219.1,240.0 218.2,242.7C217.3,245.9 218.1,249.3 215.7,251.5C213.6,253.6 210.5,252.6 207.6,252.8C203.0,253.1 199.2,254.5 195.0,252.8C193.3,252.1 193.7,249.0 195.0,247.8Z" fill="#f54b19"/>
<path d="M356.0,196.4C360.6,192.3 365.9,191.0 372.0,190.0C380.5,188.6 387.5,188.5 396.0,190.0C406.8,192.0 414.7,195.5 424.8,199.6C429.1,201.3 433.1,202.4 436.0,206.0C438.7,209.2 439.5,213.0 439.2,217.2C438.9,221.6 437.3,225.1 434.4,228.4C431.8,231.4 428.8,233.4 424.8,234.0C420.2,234.7 416.4,233.1 412.0,231.6C407.1,229.9 403.9,227.3 399.2,225.2C394.7,223.2 390.9,222.5 386.4,220.4C382.2,218.4 379.2,216.3 375.2,214.0C371.2,211.7 367.9,210.1 364.0,207.6C361.6,206.1 359.3,205.1 357.6,202.8C356.2,200.9 354.2,198.0 356.0,196.4Z" fill="#f54b19"/>
<path d="M356.0,194.0C358.1,188.2 364.0,185.6 370.0,184.0C375.6,182.5 380.4,184.5 386.0,186.0C391.3,187.4 394.8,190.2 400.0,192.0C407.1,194.5 412.9,195.5 420.0,198.0C425.2,199.8 429.7,200.6 434.0,204.0C437.3,206.6 439.2,209.9 440.0,214.0C440.7,217.6 440.3,221.1 438.0,224.0C434.8,228.1 431.1,231.3 426.0,232.0C420.1,232.8 415.6,229.9 410.0,228.0C402.6,225.5 397.2,222.8 390.0,220.0C384.3,217.8 379.5,216.8 374.0,214.0C369.4,211.7 365.5,209.9 362.0,206.0C358.8,202.4 354.3,198.5 356.0,194.0Z" fill="#f54b19"/>
<path d="M398.0,150.0C404.5,143.5 406.4,135.2 414.0,130.0C417.0,127.9 420.8,130.2 424.0,132.0C429.7,135.3 433.1,139.5 438.0,144.0C442.5,148.1 446.5,151.0 450.0,156.0C451.7,158.4 453.9,161.7 452.0,164.0C449.7,166.9 445.7,166.3 442.0,166.0C435.4,165.5 430.4,163.6 424.0,162.0C418.9,160.7 415.0,159.5 410.0,158.0C406.4,156.9 403.7,155.7 400.0,155.0C396.5,154.3 391.3,157.4 390.0,154.0C388.8,151.0 395.7,152.3 398.0,150.0Z" fill="#f54b19"/>
<path d="M275.0,365.0C277.8,359.6 282.0,356.3 287.5,353.8C294.2,350.7 300.2,349.1 307.5,350.0C316.1,351.0 321.9,355.6 330.0,358.8C337.2,361.5 342.5,364.4 350.0,366.2C357.0,368.0 362.8,367.6 370.0,368.8C376.4,369.8 381.9,369.4 387.5,372.5C391.4,374.7 394.0,378.1 395.0,382.5C396.0,387.0 393.3,390.5 392.5,395.0C391.5,400.4 389.5,404.5 390.0,410.0C390.5,415.7 393.2,419.6 395.0,425.0C396.8,430.4 397.5,434.9 400.0,440.0C402.9,445.8 408.9,448.6 410.0,455.0C410.9,460.6 409.0,466.0 405.0,470.0C401.0,474.0 394.9,472.1 390.0,475.0C385.6,477.6 384.2,482.1 380.0,485.0C376.8,487.2 373.9,488.7 370.0,489.0C353.8,490.2 340.9,492.2 325.0,489.0C314.9,487.0 307.7,481.8 300.0,475.0C296.4,471.8 297.5,466.7 295.0,462.5C292.0,457.6 288.5,454.5 285.0,450.0C282.2,446.4 279.5,444.0 277.5,440.0C275.0,434.9 273.8,430.5 272.5,425.0C271.1,418.8 270.0,413.9 270.0,407.5C270.0,398.5 271.4,391.5 272.5,382.5C273.2,376.2 272.1,370.6 275.0,365.0Z" fill="#f54b19"/>
<path d="M410.0,357.5C411.8,352.7 415.4,349.8 420.0,347.5C425.8,344.6 431.1,343.3 437.5,343.8C445.0,344.3 451.0,346.2 457.5,350.0C463.0,353.2 467.4,356.7 470.0,362.5C472.2,367.4 472.9,372.9 470.0,377.5C467.4,381.6 462.3,382.5 457.5,382.5C450.9,382.5 446.1,379.9 440.0,377.5C434.4,375.3 430.7,372.1 425.0,370.0C420.7,368.4 416.0,370.4 412.5,367.5C409.6,365.1 408.7,361.0 410.0,357.5Z" fill="#f54b19"/>
<path d="M450.0,400.0C450.9,395.0 455.0,391.1 460.0,390.0C464.7,388.9 469.6,391.1 472.5,395.0C475.8,399.4 476.1,404.6 475.0,410.0C474.1,414.4 471.7,418.4 467.5,420.0C463.2,421.6 458.0,421.0 455.0,417.5C450.7,412.6 448.8,406.4 450.0,400.0Z" fill="#f54b19"/>
<path d="M60.0,478.0C62.4,470.7 67.5,466.4 72.5,460.5C76.6,455.6 80.1,452.0 85.0,448.0C90.0,443.9 94.0,440.6 100.0,438.0C106.8,435.1 112.7,431.9 120.0,433.0C125.7,433.9 127.7,439.8 132.5,443.0C138.5,447.0 143.6,449.6 150.0,453.0C157.1,456.8 162.6,459.8 170.0,463.0C175.2,465.2 179.3,468.5 185.0,468.0C191.0,467.5 195.5,464.5 200.0,460.5C204.8,456.2 205.4,450.1 210.0,445.5C213.7,441.8 217.4,439.3 222.5,438.0C225.3,437.3 228.6,438.0 230.0,440.5C232.7,445.3 233.3,450.1 232.5,455.5C231.5,462.3 227.0,466.4 225.0,473.0C223.4,478.2 224.7,483.0 222.5,488.0C220.9,491.5 218.8,495.5 215.0,495.5C210.5,495.5 208.4,491.0 205.0,488.0C201.2,484.6 199.4,480.6 195.0,478.0C190.1,475.1 185.7,473.6 180.0,473.0C172.8,472.2 167.2,473.8 160.0,474.2C151.9,474.7 145.6,475.1 137.5,475.5C128.5,476.0 121.5,475.9 112.5,476.8C103.4,477.7 96.5,479.3 87.5,480.5C79.4,481.6 73.1,483.7 65.0,483.0C62.5,482.8 59.2,480.4 60.0,478.0Z" fill="#f54b19"/>
<path d="M105.0,528.0C107.9,522.7 114.2,522.2 120.0,520.5C127.0,518.5 132.7,518.0 140.0,518.0C148.1,518.0 154.4,519.6 162.5,520.5C170.6,521.4 177.4,520.1 185.0,523.0C189.8,524.8 194.0,528.0 195.0,533.0C196.1,538.6 194.4,544.4 190.0,548.0C184.2,552.6 177.4,552.6 170.0,553.0C161.0,553.5 154.0,551.5 145.0,550.5C137.8,549.7 132.1,549.4 125.0,548.0C118.6,546.7 112.1,547.6 107.5,543.0C103.6,539.1 102.3,532.8 105.0,528.0Z" fill="#f54b19"/>
<path d="M277.5,485.5C280.6,481.3 284.9,479.2 290.0,478.0C297.0,476.4 306.8,471.6 310.0,478.0C316.4,490.9 318.9,506.7 310.0,518.0C303.8,525.9 291.2,518.0 282.5,513.0C277.3,510.0 276.1,503.9 275.0,498.0C274.2,493.5 274.7,489.2 277.5,485.5Z" fill="#f54b19"/>
<path d="M290.0,460.0C322.4,460.0 348.0,455.2 380.0,460.0C386.4,461.0 388.9,468.6 390.0,475.0C390.9,480.6 387.9,485.1 385.0,490.0C381.5,496.1 376.4,499.2 372.5,505.0C369.2,510.0 369.0,515.5 365.0,520.0C360.7,524.8 355.0,525.9 350.0,530.0C345.1,534.0 340.7,537.0 337.5,542.5C334.2,548.2 334.9,553.9 332.5,560.0C330.3,565.6 328.5,570.1 325.0,575.0C322.1,579.2 319.4,582.4 315.0,585.0C310.1,587.9 305.6,589.2 300.0,590.0C292.9,591.0 281.1,597.1 280.0,590.0C272.9,543.7 276.4,506.7 280.0,460.0C280.3,456.4 286.4,460.0 290.0,460.0Z" fill="#f54b19"/>
<path d="M390.0,467.5C393.9,463.6 399.5,465.0 405.0,465.0C412.3,465.0 418.5,464.3 425.0,467.5C430.2,470.1 434.0,474.3 435.0,480.0C436.0,485.6 434.3,491.3 430.0,495.0C425.9,498.6 420.5,497.9 415.0,497.5C408.5,497.0 403.3,495.6 397.5,492.5C393.0,490.1 389.0,487.4 387.5,482.5C385.9,477.3 386.1,471.4 390.0,467.5Z" fill="#f54b19"/>
<polygon points="432.5,480 442.5,475 450,482.5 447.5,492.5 437.5,495" fill="#f54b19"/>
<path d="M102.5,535.0C105.5,530.1 109.8,527.4 115.0,525.0C123.5,521.0 130.7,518.9 140.0,517.5C148.9,516.2 156.3,515.3 165.0,517.5C174.8,519.9 182.6,523.2 190.0,530.0C194.2,533.8 196.0,539.4 195.0,545.0C194.0,550.7 190.0,554.6 185.0,557.5C178.6,561.2 172.2,560.9 165.0,562.5C156.0,564.5 149.1,566.0 140.0,567.5C132.8,568.7 127.2,570.5 120.0,570.0C114.3,569.6 109.0,569.0 105.0,565.0C101.0,561.0 100.5,555.7 100.0,550.0C99.5,544.5 99.7,539.7 102.5,535.0Z" fill="#f54b19"/>
<path d="M270.0,545.0C271.5,539.4 275.9,536.6 280.0,532.5C283.2,529.3 286.0,527.0 290.0,525.0C296.9,521.6 302.4,518.6 310.0,517.5C320.7,515.9 334.6,508.1 340.0,517.5C349.4,533.9 342.6,551.3 340.0,570.0C338.9,578.0 335.7,584.3 330.0,590.0C326.0,594.0 320.7,594.6 315.0,595.0C307.8,595.5 301.8,594.9 295.0,592.5C288.9,590.3 284.8,586.8 280.0,582.5C275.7,578.6 271.5,575.6 270.0,570.0C267.7,561.3 267.7,553.7 270.0,545.0Z" fill="#f54b19"/>
<path d="M161.2,622.5C162.9,618.7 166.1,616.4 170.0,615.0C175.1,613.1 179.6,613.1 185.0,613.8C190.6,614.5 195.1,615.9 200.0,618.8C205.2,621.8 208.6,625.4 212.5,630.0C215.9,634.0 219.0,637.4 220.0,642.5C220.5,645.1 218.8,648.3 216.2,648.8C212.0,649.5 208.9,646.6 205.0,645.0C201.3,643.5 198.8,641.3 195.0,640.0C190.6,638.5 187.0,638.2 182.5,637.5C178.0,636.8 174.4,637.3 170.0,636.2C167.1,635.5 164.1,635.0 162.5,632.5C160.6,629.4 159.8,625.8 161.2,622.5Z" fill="#f54b19"/>
<path d="M495.0,415.5C497.6,408.6 507.6,409.9 515.0,410.5C520.2,410.9 524.6,413.6 527.5,418.0C530.5,422.6 530.9,427.6 530.0,433.0C529.0,439.0 526.1,443.1 522.5,448.0C518.8,453.1 515.6,457.5 510.0,460.5C505.2,463.1 496.7,468.2 495.0,463.0C489.6,446.8 488.9,431.5 495.0,415.5Z" fill="#f54b19"/>
<path d="M535.0,453.0C539.0,449.0 544.3,448.0 550.0,448.0C555.7,448.0 559.7,450.8 565.0,453.0C570.6,455.3 575.3,456.7 580.0,460.5C584.5,464.1 587.6,467.8 590.0,473.0C592.3,478.0 594.2,482.8 592.5,488.0C591.1,492.3 586.9,494.7 582.5,495.5C576.2,496.6 571.2,494.4 565.0,493.0C559.5,491.7 555.0,490.7 550.0,488.0C544.9,485.2 541.0,482.5 537.5,478.0C534.5,474.2 533.0,470.3 532.5,465.5C532.0,460.9 531.8,456.2 535.0,453.0Z" fill="#f54b19"/>
<path d="M560.0,508.0C562.5,503.4 567.3,501.0 572.5,500.5C577.3,500.0 581.6,502.1 585.0,505.5C588.4,508.9 590.0,513.2 590.0,518.0C590.0,523.7 587.5,527.9 585.0,533.0C582.1,538.8 579.9,543.7 575.0,548.0C571.4,551.2 566.7,555.4 562.5,553.0C557.6,550.2 558.0,543.7 557.5,538.0C557.0,532.5 559.5,528.5 560.0,523.0C560.4,517.6 557.4,512.7 560.0,508.0Z" fill="#f54b19"/>
<path d="M585.0,528.0C588.6,523.6 594.6,524.8 600.0,523.0C605.4,521.2 609.7,520.2 615.0,518.0C620.6,515.7 624.0,511.5 630.0,510.5C635.4,509.6 639.9,510.9 645.0,513.0C651.0,515.5 656.7,517.4 660.0,523.0C662.8,527.6 662.0,533.0 660.0,538.0C658.1,542.7 654.4,545.4 650.0,548.0C645.1,550.9 640.4,551.2 635.0,553.0C629.6,554.8 625.1,555.5 620.0,558.0C614.2,560.9 611.3,566.6 605.0,568.0C594.5,570.3 584.7,572.8 575.0,568.0C570.2,565.6 573.7,558.2 575.0,553.0C577.4,543.6 578.8,535.4 585.0,528.0Z" fill="#f54b19"/>
<polygon points="705,535.5 712.5,530.5 718.75,540.5 720,553 710,554.25" fill="#f54b19"/>
<ellipse cx="615.0" cy="459.2" rx="6.0" ry="6.0" fill="#f54b19"/>
<ellipse cx="635.0" cy="473.0" rx="7.5" ry="6.0" fill="#f54b19"/>
<ellipse cx="548.8" cy="440.5" rx="4.5" ry="4.5" fill="#f54b19"/>
<ellipse cx="710.0" cy="401.8" rx="4.0" ry="4.0" fill="#f54b19"/>
<ellipse cx="622.5" cy="315.0" rx="3.0" ry="3.0" fill="#f54b19"/>
<ellipse cx="637.5" cy="328.8" rx="7.5" ry="6.0" fill="#f54b19"/>
<ellipse cx="658.8" cy="366.2" rx="3.5" ry="3.5" fill="#f54b19"/>
<ellipse cx="711.2" cy="402.5" rx="5.5" ry="5.5" fill="#f54b19"/>
<path d="M788.0,334.0C789.2,330.1 791.9,326.0 796.0,326.0C799.6,326.0 801.4,330.4 802.0,334.0C803.0,339.7 801.8,344.5 800.0,350.0C798.9,353.4 797.6,357.4 794.0,358.0C791.0,358.5 788.7,355.0 788.0,352.0C786.4,345.7 786.1,340.2 788.0,334.0Z" fill="#f54b19"/>
<path d="M842.0,310.0C843.2,307.3 847.1,307.3 850.0,308.0C853.5,308.9 855.6,311.3 858.0,314.0C861.4,317.9 863.4,321.5 866.0,326.0C868.4,330.2 871.1,333.2 872.0,338.0C872.7,341.6 872.6,345.4 870.0,348.0C868.0,350.0 864.6,349.3 862.0,348.0C857.0,345.5 853.8,342.2 850.0,338.0C846.5,334.2 843.4,331.0 842.0,326.0C840.4,320.5 839.7,315.3 842.0,310.0Z" fill="#f54b19"/>
<ellipse cx="709.2" cy="401.7" rx="5.0" ry="5.0" fill="#f54b19"/>
<ellipse cx="793.1" cy="353.4" rx="6.0" ry="6.0" fill="#f54b19"/>
<ellipse cx="890.3" cy="400.6" rx="9.2" ry="6.4" fill="#f54b19"/>
<polygon points="568,558 610,558 606,568 590,570 574,568" fill="#f54b19"/>
<ellipse cx="626.0" cy="563.0" rx="7.0" ry="5.0" fill="#f54b19"/>
<ellipse cx="537.5" cy="591.2" rx="3.5" ry="3.5" fill="#f54b19"/>
<ellipse cx="520.5" cy="287.4" rx="7.7" ry="6.3" fill="#f54b19"/>
<path d="M237.7,215.1C240.2,213.0 243.5,212.7 246.5,213.8C249.1,214.8 250.1,217.5 250.9,220.1C251.7,222.7 251.7,225.1 250.9,227.7C250.0,230.7 248.8,233.0 246.5,235.2C244.7,236.9 242.7,237.9 240.2,238.0C237.4,238.0 234.9,237.3 232.7,235.5C231.2,234.2 230.8,232.1 231.2,230.2C231.7,227.5 233.9,226.1 234.9,223.6C236.2,220.7 235.2,217.2 237.7,215.1Z" fill="#dc0032"/>
<path d="M195.0,247.8C196.5,246.8 198.6,248.8 200.0,247.8C203.5,245.2 204.4,241.3 207.6,238.3C209.7,236.4 211.7,233.9 214.5,234.6C216.5,235.0 216.1,238.2 215.7,240.2C215.1,243.4 214.2,246.1 212.0,248.4C210.1,250.3 207.7,250.5 205.1,250.9C201.5,251.4 198.5,252.0 195.0,250.9C193.9,250.6 194.0,248.4 195.0,247.8Z" fill="#dc0032"/>
<path d="M396.0,209.2C399.3,205.7 404.0,205.5 408.8,205.2C413.5,204.9 417.4,205.5 421.6,207.6C424.2,208.9 426.4,211.1 426.4,214.0C426.4,216.7 424.1,218.7 421.6,219.6C417.3,221.2 413.4,220.9 408.8,220.4C404.6,220.0 400.8,220.0 397.6,217.2C395.4,215.3 394.0,211.3 396.0,209.2Z" fill="#dc0032"/>
<path d="M287.5,372.5C290.9,369.1 295.2,367.9 300.0,367.5C305.5,367.0 309.9,367.9 315.0,370.0C321.0,372.5 324.6,376.4 330.0,380.0C335.4,383.6 339.8,386.2 345.0,390.0C349.7,393.4 353.0,396.5 357.5,400.0C361.1,402.8 363.9,404.7 367.5,407.5C372.0,411.0 376.5,413.0 380.0,417.5C383.0,421.3 384.6,425.2 385.0,430.0C385.5,435.5 383.4,439.6 382.5,445.0C381.6,450.4 381.6,454.8 380.0,460.0C378.8,463.9 378.3,467.7 375.0,470.0C371.3,472.7 367.1,472.9 362.5,472.5C356.0,472.0 351.2,469.6 345.0,467.5C337.7,465.1 332.1,463.0 325.0,460.0C319.5,457.6 314.7,456.3 310.0,452.5C305.5,448.9 301.5,445.6 300.0,440.0C298.6,434.7 301.7,430.4 302.5,425.0C303.5,418.7 306.3,413.7 305.0,407.5C303.5,400.4 298.9,396.1 295.0,390.0C292.6,386.2 289.3,384.1 287.5,380.0C286.4,377.5 285.6,374.4 287.5,372.5Z" fill="#dc0032"/>
<path d="M360.0,385.0C362.1,380.3 365.3,376.9 370.0,375.0C375.0,373.0 380.1,372.7 385.0,375.0C388.8,376.8 390.4,380.8 391.2,385.0C392.3,390.3 392.4,395.2 390.0,400.0C388.0,404.0 384.4,406.5 380.0,407.5C375.5,408.5 371.6,407.1 367.5,405.0C364.1,403.3 361.3,401.1 360.0,397.5C358.4,393.3 358.2,389.1 360.0,385.0Z" fill="#dc0032"/>
<ellipse cx="97.5" cy="448.0" rx="7.5" ry="6.5" fill="#dc0032"/>
<ellipse cx="202.0" cy="463.0" rx="4.0" ry="4.0" fill="#dc0032"/>
<ellipse cx="293.8" cy="493.0" rx="5.0" ry="5.0" fill="#dc0032"/>
<path d="M288.8,491.6C292.6,487.2 295.0,483.1 299.6,479.6C304.2,476.1 308.6,474.5 314.0,472.4C318.6,470.6 322.4,467.8 327.2,468.8C330.0,469.4 330.6,473.1 330.8,476.0C331.1,479.6 330.7,482.9 328.4,485.6C325.5,489.0 321.6,489.7 317.6,491.6C313.4,493.6 310.1,495.1 305.6,496.4C301.4,497.7 298.0,499.1 293.6,498.8C290.5,498.6 287.7,497.5 286.0,495.0C285.1,493.7 287.8,492.8 288.8,491.6Z" fill="#dc0032"/>
<path d="M340.0,485.0C343.1,481.2 347.7,479.5 352.5,480.0C357.7,480.5 362.1,483.1 365.0,487.5C368.0,492.1 367.9,497.0 367.5,502.5C367.0,509.0 365.2,514.1 362.5,520.0C359.8,525.9 358.2,531.8 352.5,535.0C348.5,537.2 343.2,535.7 340.0,532.5C336.0,528.5 335.7,523.2 335.0,517.5C334.3,511.2 335.3,506.2 336.2,500.0C337.1,494.5 336.5,489.3 340.0,485.0Z" fill="#dc0032"/>
<path d="M403.8,472.5C406.7,469.6 411.0,468.9 415.0,470.0C418.4,471.0 420.5,474.1 421.2,477.5C422.0,481.1 421.5,485.0 418.8,487.5C416.1,489.9 412.2,489.8 408.8,488.8C405.7,487.8 403.4,485.5 402.5,482.5C401.4,479.0 401.2,475.1 403.8,472.5Z" fill="#dc0032"/>
<ellipse cx="438.8" cy="487.5" rx="3.0" ry="3.0" fill="#dc0032"/>
<ellipse cx="171.2" cy="632.5" rx="5.0" ry="5.0" fill="#dc0032"/>
<ellipse cx="641.2" cy="531.8" rx="2.5" ry="2.5" fill="#dc0032"/>
<path d="M307.5,507.5C309.5,503.2 313.0,500.3 317.5,498.8C321.8,497.3 326.3,497.4 330.0,500.0C333.2,502.2 333.8,506.2 333.8,510.0C333.8,514.7 333.5,519.3 330.0,522.5C326.6,525.6 322.1,525.5 317.5,525.0C313.5,524.6 309.5,523.5 307.5,520.0C305.3,516.1 305.6,511.6 307.5,507.5Z" fill="#f57d0a"/>
<ellipse cx="325.0" cy="507.5" rx="3.0" ry="3.0" fill="#dcb900"/>
<path d="M233.9,230.2C234.2,228.3 235.9,227.0 237.7,226.4C239.7,225.8 241.7,225.8 243.4,227.0C244.7,228.0 245.0,229.8 244.6,231.4C244.2,233.1 243.0,234.3 241.5,234.9C239.8,235.7 238.0,235.9 236.5,234.9C234.8,233.9 233.7,232.1 233.9,230.2Z" fill="#9b0000"/>
<path d="M195.0,247.8C196.9,246.9 198.9,249.1 200.7,248.0C203.5,246.3 203.8,243.0 206.3,240.9C207.2,240.1 209.1,239.4 209.4,240.5C210.1,242.8 209.4,245.0 208.2,247.1C207.2,248.9 205.7,250.0 203.8,250.5C200.7,251.3 198.0,251.5 195.0,250.5C194.1,250.2 194.1,248.2 195.0,247.8Z" fill="#9b0000"/>
<path d="M317.0,412.4C318.9,408.7 322.5,406.9 326.5,406.0C330.4,405.1 333.9,406.0 337.6,407.6C342.1,409.6 345.1,412.3 348.7,415.6C352.6,419.2 354.6,423.0 358.3,426.7C362.0,430.4 366.2,432.1 369.4,436.2C372.5,440.2 374.5,443.9 375.7,448.9C376.8,453.3 377.7,457.5 375.7,461.6C373.9,465.3 370.2,467.1 366.2,468.0C361.7,469.0 357.8,468.0 353.5,466.3C349.0,464.5 346.3,461.4 342.4,458.4C338.3,455.2 335.0,452.6 331.3,448.9C327.6,445.2 324.7,442.2 321.7,437.8C319.2,434.1 316.8,431.1 316.0,426.7C315.1,421.6 314.7,417.0 317.0,412.4Z" fill="#9b0000"/>
<ellipse cx="345.0" cy="518.8" rx="7.5" ry="6.0" fill="#9b0000"/>
<path d="M321.7,414.0C323.5,411.2 326.4,409.5 329.7,409.2C333.3,408.9 336.4,410.1 339.2,412.4C343.0,415.5 343.9,419.8 347.1,423.5C350.2,427.2 353.3,429.6 356.7,433.0C360.1,436.4 363.1,438.8 366.2,442.5C368.8,445.7 371.8,448.0 372.5,452.0C373.1,455.6 372.4,459.6 369.4,461.6C366.1,463.8 362.1,462.9 358.3,461.6C353.6,460.0 350.7,457.0 347.1,453.7C343.2,450.1 340.9,446.7 337.6,442.5C334.6,438.6 332.7,435.3 329.7,431.4C327.0,427.9 323.6,426.0 321.7,421.9C320.5,419.3 320.2,416.4 321.7,414.0Z" fill="#640f00"/>
<path d="M812.0,150.0C804.9,151.4 811.8,163.4 815.0,170.0C818.6,177.5 824.9,181.0 830.0,187.5C834.8,193.6 837.1,199.4 842.5,205.0C847.7,210.4 851.8,215.7 859.0,217.5C864.5,218.9 868.9,215.4 874.0,213.0C879.3,210.5 883.1,207.9 887.5,204.0C892.4,199.7 895.3,195.5 899.5,190.5C904.0,185.2 909.0,182.0 911.5,175.5C914.8,166.8 924.0,152.3 915.0,150.0C879.1,140.8 848.4,142.7 812.0,150.0Z" fill="#00b4a0"/>
<path d="M545.0,37.5C542.9,37.9 547.0,40.8 548.8,42.0C551.6,44.0 554.2,45.2 557.5,46.2C561.9,47.6 565.5,48.1 570.0,48.8C575.4,49.5 579.6,50.0 585.0,50.0C590.4,50.0 594.6,49.3 600.0,48.8C603.6,48.4 606.7,49.0 610.0,47.5C615.9,44.8 623.0,43.7 625.0,37.5C629.1,24.6 635.8,8.1 625.0,0.0C610.6,-10.8 589.9,-10.1 575.0,0.0C563.7,7.7 578.5,26.9 570.0,37.5C564.4,44.5 553.8,35.6 545.0,37.5Z" fill="#00b4a0"/>
<path d="M306.4,223.6C309.2,221.0 312.2,219.5 316.0,218.8C321.7,217.7 326.3,218.2 332.0,218.8C337.8,219.4 342.2,221.1 348.0,222.0C353.7,222.9 358.3,222.3 364.0,223.6C368.8,224.7 372.3,226.3 376.8,228.4C381.0,230.4 384.7,231.5 388.0,234.8C390.7,237.5 392.0,240.6 392.8,244.4C393.8,248.9 393.0,252.6 392.8,257.2C392.7,260.1 391.5,262.4 392.0,265.2C392.7,268.9 393.9,271.7 396.0,274.8C398.3,278.2 400.4,281.0 404.0,282.8C407.6,284.6 411.1,284.1 415.2,284.4C419.2,284.7 422.4,283.7 426.4,284.4C429.5,284.9 432.3,285.3 434.4,287.6C436.4,289.8 436.4,292.6 436.8,295.6C437.6,301.1 437.4,305.4 437.6,311.0C437.7,313.5 440.1,317.7 437.6,318.0C415.9,320.5 398.0,323.6 376.8,318.0C371.2,316.5 377.1,307.8 376.8,302.0C376.5,297.4 376.1,293.8 375.2,289.2C374.3,284.5 374.3,280.6 372.0,276.4C370.1,272.8 367.6,270.2 364.0,268.4C360.4,266.6 356.9,266.4 352.8,266.8C350.7,267.0 349.3,268.4 348.0,270.0C346.4,272.0 346.8,274.8 344.8,276.4C343.0,277.9 340.5,279.2 338.4,278.0C335.5,276.3 334.6,273.2 333.6,270.0C332.2,265.6 332.9,261.8 332.0,257.2C331.1,252.5 331.4,248.4 328.8,244.4C326.5,240.9 322.9,239.9 319.2,238.0C315.9,236.4 312.6,236.9 309.6,234.8C307.4,233.2 306.3,231.0 305.6,228.4C305.1,226.7 305.1,224.8 306.4,223.6Z" fill="#96b900"/>
<ellipse cx="583.8" cy="281.2" rx="10.0" ry="9.0" fill="#96b900"/>
<ellipse cx="501.0" cy="222.0" rx="9.0" ry="8.0" fill="#96b900"/>
<ellipse cx="348.8" cy="336.2" rx="11.0" ry="10.0" fill="#96b900"/>
<path d="M472.5,322.5C474.0,319.7 476.9,318.2 480.0,318.0C483.4,317.7 486.5,318.8 488.8,321.2C490.6,323.3 491.3,326.3 490.0,328.8C488.5,331.5 485.6,332.8 482.5,333.0C479.2,333.3 476.0,332.4 473.8,330.0C471.9,328.0 471.2,324.9 472.5,322.5Z" fill="#96b900"/>
<ellipse cx="376.2" cy="548.8" rx="13.5" ry="11.0" fill="#96b900"/>
<ellipse cx="437.5" cy="550.0" rx="10.0" ry="7.5" fill="#96b900"/>
<ellipse cx="447.5" cy="505.0" rx="8.0" ry="7.5" fill="#96b900"/>
<ellipse cx="487.5" cy="523.8" rx="12.0" ry="9.0" fill="#96b900"/>
<ellipse cx="127.5" cy="627.5" rx="16.0" ry="12.0" fill="#96b900"/>
<ellipse cx="618.8" cy="503.0" rx="9.0" ry="6.0" fill="#96b900"/>
<ellipse cx="548.8" cy="419.2" rx="4.0" ry="4.0" fill="#96b900"/>
<ellipse cx="652.5" cy="448.0" rx="7.5" ry="5.0" fill="#96b900"/>
<ellipse cx="590.0" cy="380.5" rx="5.0" ry="5.0" fill="#96b900"/>
<ellipse cx="593.8" cy="376.2" rx="9.5" ry="10.0" fill="#96b900"/>
<ellipse cx="685.0" cy="365.0" rx="5.5" ry="5.5" fill="#96b900"/>
<ellipse cx="652.5" cy="448.8" rx="7.5" ry="6.0" fill="#96b900"/>
<ellipse cx="613.8" cy="291.2" rx="6.0" ry="5.0" fill="#96b900"/>
<ellipse cx="823.0" cy="340.0" rx="10.0" ry="11.0" fill="#96b900"/>
<path d="M790.0,282.0C792.7,277.5 793.9,273.2 798.0,270.0C800.9,267.7 804.7,266.4 808.0,268.0C812.0,269.9 814.0,273.7 815.0,278.0C816.3,283.6 815.8,288.5 814.0,294.0C812.4,298.9 810.1,302.8 806.0,306.0C802.4,308.8 798.4,311.0 794.0,310.0C790.5,309.2 789.3,305.3 788.0,302.0C786.4,297.9 785.6,294.4 786.0,290.0C786.3,286.8 788.3,284.8 790.0,282.0Z" fill="#96b900"/>
<path d="M746.0,296.0C749.5,291.2 756.1,299.2 762.0,300.0C767.0,300.7 771.0,300.4 776.0,300.0C780.4,299.7 783.9,296.4 788.0,298.0C792.3,299.7 796.5,303.4 796.0,308.0C795.5,312.6 790.2,314.1 786.0,316.0C780.6,318.5 775.9,319.1 770.0,320.0C761.4,321.3 752.1,328.1 746.0,322.0C739.4,315.4 740.5,303.6 746.0,296.0Z" fill="#96b900"/>
<ellipse cx="779.0" cy="392.0" rx="11.0" ry="10.0" fill="#96b900"/>
<path d="M769.0,384.5C770.6,381.2 774.5,379.4 778.2,379.9C782.3,380.4 784.2,384.1 787.4,386.8C790.9,389.9 792.6,393.5 796.6,396.0C800.2,398.2 803.8,398.7 808.0,399.4C813.8,400.4 818.6,398.9 824.1,400.6C828.8,401.9 832.7,403.6 835.6,407.5C838.2,410.8 838.4,414.8 837.9,419.0C837.5,422.6 836.0,425.5 833.3,428.2C830.7,430.8 827.8,432.0 824.1,432.8C819.3,433.7 815.3,433.2 810.3,432.8C805.3,432.3 801.6,430.5 796.6,430.5C792.3,430.5 789.1,431.5 785.1,432.8C780.8,434.0 777.7,435.8 773.6,437.4C771.1,438.3 768.9,441.0 766.7,439.7C763.5,437.8 762.4,434.1 762.1,430.5C761.5,424.6 763.1,420.1 764.4,414.4C765.6,408.5 768.0,404.2 769.0,398.3C769.7,393.4 766.7,388.9 769.0,384.5Z" fill="#96b900"/>
<ellipse cx="488.6" cy="269.5" rx="7.4" ry="8.0" fill="#96b900"/>
<ellipse cx="545.7" cy="261.0" rx="9.0" ry="11.0" fill="#96b900"/>
<ellipse cx="535.5" cy="312.6" rx="5.3" ry="5.0" fill="#96b900"/>
<ellipse cx="248.0" cy="293.0" rx="8.0" ry="6.0" fill="#96b900"/>
<ellipse cx="315.0" cy="313.0" rx="6.5" ry="5.0" fill="#96b900"/>
<path d="M215.0,720.0C199.6,717.4 221.3,692.9 226.0,678.0C228.1,671.2 231.2,666.5 234.0,660.0C237.7,651.4 240.9,644.8 244.0,636.0C246.0,630.4 245.8,625.5 248.0,620.0C250.2,614.6 251.9,610.1 256.0,606.0C258.7,603.3 262.2,602.5 266.0,602.0C272.4,601.1 277.5,601.6 284.0,602.0C289.8,602.3 294.2,604.4 300.0,604.0C305.9,603.6 310.2,601.4 316.0,600.0C321.8,598.6 326.2,597.2 332.0,596.0C336.3,595.1 339.7,594.7 344.0,594.0C348.3,593.3 352.2,589.9 356.0,592.0C361.4,595.0 362.3,601.0 366.0,606.0C370.3,611.8 374.1,615.9 378.0,622.0C380.6,626.1 381.3,630.0 384.0,634.0C385.7,636.5 387.1,639.0 390.0,640.0C392.7,641.0 395.9,641.0 398.0,639.0C400.5,636.7 400.6,633.4 401.0,630.0C401.3,627.1 401.4,624.5 400.0,622.0C398.0,618.5 394.5,617.2 392.0,614.0C389.4,610.7 387.3,608.0 386.0,604.0C384.7,599.9 383.7,596.1 385.0,592.0C386.1,588.6 388.8,586.5 392.0,585.0C396.0,583.1 399.6,582.6 404.0,583.0C407.5,583.3 410.6,584.4 413.0,587.0C415.3,589.5 416.0,592.6 416.0,596.0C416.0,600.5 413.0,603.5 413.0,608.0C413.0,611.8 413.6,615.1 416.0,618.0C418.6,621.3 422.4,621.9 426.0,624.0C427.4,624.8 428.4,625.8 430.0,626.0C440.7,627.3 449.2,628.2 460.0,628.0C465.9,627.9 470.3,626.4 476.0,625.0C480.4,623.9 483.5,621.4 488.0,621.0C492.4,620.6 496.2,620.9 500.0,623.0C503.8,625.1 505.8,628.2 508.0,632.0C510.3,636.0 510.9,639.6 512.0,644.0C513.1,648.2 512.7,651.8 514.0,656.0C514.9,659.1 516.9,661.0 518.0,664.0C522.7,676.8 527.6,686.6 530.0,700.0C531.9,710.6 540.8,729.3 530.0,730.0C416.8,737.2 326.8,739.1 215.0,720.0Z" fill="#96b900"/>
<path d="M830.0,150.0C823.0,152.5 831.9,163.3 835.0,170.0C837.4,175.2 841.6,177.9 845.0,182.5C848.8,187.6 850.7,192.3 855.0,197.0C857.5,199.7 859.9,202.6 863.5,202.5C867.4,202.4 869.9,199.4 872.5,196.5C875.9,192.7 877.4,188.9 880.0,184.5C881.9,181.2 883.9,178.7 885.0,175.0C887.6,166.2 898.4,153.8 890.0,150.0C870.3,141.1 850.3,142.6 830.0,150.0Z" fill="#2d9be6"/>
<ellipse cx="359.5" cy="244.7" rx="12.0" ry="9.1" fill="#00b4a0"/>
<ellipse cx="409.6" cy="303.6" rx="12.0" ry="8.8" fill="#00b4a0"/>
<ellipse cx="785.0" cy="405.0" rx="5.0" ry="5.0" fill="#00b4a0"/>
<ellipse cx="798.0" cy="292.0" rx="6.4" ry="6.0" fill="#00b4a0"/>
<ellipse cx="785.5" cy="404.3" rx="5.7" ry="5.1" fill="#00b4a0"/>
<ellipse cx="817.2" cy="414.4" rx="11.5" ry="6.9" fill="#00b4a0"/>
<path d="M218.0,720.0C203.4,714.7 223.5,692.9 228.0,678.0C230.0,671.2 232.2,666.0 236.0,660.0C239.5,654.4 244.0,651.3 248.0,646.0C252.7,639.8 255.0,633.9 260.0,628.0C263.0,624.5 265.7,621.8 270.0,620.0C274.7,618.0 278.9,618.0 284.0,618.0C289.8,618.0 294.2,619.5 300.0,620.0C307.2,620.6 312.8,620.6 320.0,621.0C327.2,621.4 333.0,620.5 340.0,622.0C344.7,623.0 348.4,624.8 352.0,628.0C355.9,631.5 357.1,635.7 360.0,640.0C362.9,644.3 366.1,647.2 368.0,652.0C370.5,658.2 371.7,663.4 372.0,670.0C373.1,691.6 392.5,723.3 372.0,730.0C319.2,747.2 270.3,738.9 218.0,720.0Z" fill="#00b4a0"/>
<path d="M404.0,662.0C404.9,653.8 405.6,646.9 410.0,640.0C412.0,636.8 416.2,637.0 420.0,637.0C424.5,637.0 428.1,637.9 432.0,640.0C436.9,642.7 439.7,646.4 444.0,650.0C448.3,653.6 450.7,658.1 456.0,660.0C459.5,661.3 462.5,659.2 466.0,658.0C469.8,656.7 472.1,654.1 476.0,653.0C480.2,651.9 483.8,651.0 488.0,652.0C492.1,652.9 495.2,654.8 498.0,658.0C500.6,660.9 500.8,664.3 502.0,668.0C502.9,670.8 503.5,673.1 504.0,676.0C504.9,681.0 504.6,685.1 506.0,690.0C510.3,704.6 534.3,724.6 520.0,730.0C479.6,745.3 437.3,751.8 400.0,730.0C378.8,717.6 401.3,686.4 404.0,662.0Z" fill="#00b4a0"/>
<path d="M248.0,720.0C231.9,705.2 252.7,681.2 258.0,660.0C259.3,655.0 262.6,652.0 266.0,648.0C270.6,642.6 274.1,638.1 280.0,634.0C283.7,631.4 287.4,630.0 292.0,630.0C296.6,630.0 299.8,632.2 304.0,634.0C308.5,635.9 312.0,637.3 316.0,640.0C320.7,643.1 325.1,645.2 328.0,650.0C331.9,656.4 333.4,662.5 334.0,670.0C335.6,691.5 352.7,719.1 334.0,730.0C307.1,745.7 270.9,741.1 248.0,720.0Z" fill="#2d9be6"/>
<path d="M414.0,700.0C415.2,687.6 412.2,675.6 420.0,666.0C424.6,660.4 432.8,667.1 440.0,668.0C447.2,668.9 452.8,669.9 460.0,671.0C467.2,672.1 473.0,672.0 480.0,674.0C484.6,675.3 487.9,677.4 492.0,680.0C495.9,682.5 498.9,684.6 502.0,688.0C504.8,691.1 505.7,694.5 508.0,698.0C510.0,701.0 514.3,702.4 514.0,706.0C513.1,715.2 514.0,727.8 505.0,730.0C473.1,737.6 445.1,740.3 414.0,730.0C403.7,726.6 413.0,710.8 414.0,700.0Z" fill="#2d9be6"/>
<path d="M450.0,684.0C453.8,680.6 459.1,680.5 464.0,682.0C469.4,683.7 472.2,687.8 476.0,692.0C478.8,695.1 483.2,698.0 482.0,702.0C480.4,707.4 475.4,710.3 470.0,712.0C465.1,713.5 460.1,713.0 456.0,710.0C451.3,706.6 449.3,701.7 448.0,696.0C447.0,691.7 446.7,686.9 450.0,684.0Z" fill="#82c8fa"/>
</g>
<g clip-path="url(#bj)" fill="none" stroke="#8c8c8c" stroke-width="1.3" stroke-linejoin="round">
<polyline points="297,345 301,331 320,326 334,325 346,322 360,326 370,328 376,319 394,310 406,307 421,305.6 436,301 448,301 460,307 472,319 490,322 502,328 508,340 520,346 535,352 550,349 565,346 580,346 590,352 600,356 610,364 620,359 632,349 645,339 660,334 672,336 680,339 692,349 700,361 715,364 725,359 735,349 747,329 757,321 775,316 790,311 800,309 826,306 842,305"/>
<polyline points="436,301 439,280 441,270 439,262 446,254 458,252 466,256 476,258 478,254 490,256 510,258 526,260 534,256 530,248 514,244 518,236 528,228 538,216 544,208 550,200 560,194 554,190 542,184 526,178 524,170 530,160 534,150 530,142 510,132"/>
<polyline points="695,122 675,137 655,142 650,150 652,160 637,165 622,172 620,185 617,200 622,212 605,225 612,239 617,245 612,259 625,271 630,287 625,299 622,306 632,314 645,324 660,334"/>
<polyline points="672,334 680,340 690,352 700,362"/>
<polyline points="725,359 725,378 722,392 730,400 735,412 735,430 730,442"/>
<polyline points="520,346 520,370 517,376 523,382 520,394 522,402 520,410 520,418 515,428 506,438 494,442 484,450 478,455"/>
<polyline points="515,428 522,432 532,434 544,438 556,444 568,448 574,450 576,458 584,458 592,460 600,462 608,460 618,458 628,458 636,460 640,462 646,462"/>
<polyline points="562,422 564,430 572,424 574,432 574,442 576,450"/>
<polyline points="576,458 584,466 588,474 590,482 588,490 584,496 582,506 584,514 580,521 578,535 570,545"/>
<polyline points="480,482 488,480 494,482 500,488 504,494 506,506 506,521 505,535"/>
<polyline points="316,442 334,433 352,436 370,430 379,412 385,400 400,406 409,400 421,412 430,424 442,436 454,442 478,445 500,446 520,445"/>
<polyline points="275,409 285,415 299,434 315,434 331,434 341,441 347,451 353,455 371,455 383,458 392,465 395,475 390,490 400,500 420,505 440,510 450,525"/>
<polyline points="331,434 347,417 359,412 383,407 389,405"/>
<polyline points="455,492 470,489 486,482 494,486 502,488 504,498 502,510 506,518 504,524 484,524 474,522 464,522 454,520 452,510 455,492"/>
<polyline points="506,518 512,528 508,532 504,536 492,546 496,550 504,550 512,548 525,545 540,540 548,540 560,540 570,542 580,536 586,528 584,520 586,510 590,500 592,490 590,478 588,470"/>
<polyline points="460,555.7 470,550 480,552 484,558 486,566 488,560 496,554 500,550"/>
<polyline points="544,542 548,550 544,558 546,566 542,574 544,586 556,590 568,588 580,586 590,590 594,600 600,606 612,608 620,610"/>
<polyline points="120,556 127.5,550 140,540 147.5,525 165,517.5 185,510 205,502.5 215,500 230,502.5 245,510 265,505 285,505 290,510 280,520 297.5,522.5 310,522.5 307.5,535 320,536 328.4,536 336.8,533.3 342.4,527.7 343.8,524.9 353.7,523.5 359.3,522.1 364.9,519.3 373.3,517.9 380.3,516.5 385.9,515 392.9,513.7 398.5,516.5 404.2,519.3 409.8,517.9 415.4,515 421,513.7"/>
<polyline points="342.4,527.7 342.4,538.9 349.5,541.7 350.9,547.3 349.5,555.7 356.5,559.9 362.1,562.7 369.1,564.2 373.3,567 380.3,567 385.9,562.7 392.9,561.3 398.5,562.7 402.7,552.9 404.2,545.9 409.8,543.1 415.4,544.5 418.2,550.1 422.4,555.7 429.4,555.7 435,557.1 442,558.5 446.2,564.2 450.4,567 454.6,558.5 460,555.7"/>
<polyline points="415.4,544.5 418,558 421,570 420,586 415,600 410,615 407,635 410,649"/>
<polyline points="404,491 407,501 418,502.4 422.4,503.8 423.8,513.7 432.2,513.7 439.2,512.3 446.2,512.3 453.2,510.9 458.8,508"/>
</g>
<polygon points="457,70 463.8,61.9 472,59 477,62 480.5,70 486.4,75 492.4,78.6 502,78.6 511.4,78.6 517.4,78.6 518.6,73.8 516.2,67.9 511.4,61.9 506.7,56 507.9,50 509,44 525,44 547.5,40 560,39 575,46 580,37.5 579,20 582.5,11 592.5,9.5 602.5,15 612.5,19 614,27.5 609,35 606,46 610,54 622.5,67.5 625,75 640,80 647.5,87.5 660,100 675,102.5 687.5,110 695,122.5 700,125 710,135 715,145 725,154 735,160 750,166 767.5,164 792.5,161 815,165.5 835,167.5 850,174 857.5,172.5 868,181.5 884.5,182 893.5,176 907,173 922,170 934,172 940,175 953.5,174 961,176 968.5,181.5 965.5,186 962.5,190.5 956.5,194 950.5,192 946,186 941.5,187 940,195 934,198 929.5,193.5 927,196.5 928,201 924,205.5 925.5,211.5 931.5,218 928,221 920.5,220 913,225 907,222 901,218 887.5,218 877,220.5 865,225 856,229.5 852,235.5 856,241.5 857.5,245 837.5,247.5 835,252.5 838,256 846,262 850,270 859,276 852,284 848,290 848,298 844,304 852,308 858,316 864,324 864,332 870,338 874,346 882,344 890,343 892,354 896,366 906,368 915,370 914,378 920,386 917.5,390 902.5,394 897.5,400 900,405 890,407.5 880,409 875,415 865,417.5 860,421 850,417.5 842.5,425 836,430 830,434 825,431 820,436 810,436 802.5,439 795,436 785,435 775,437.5 765,440 760,445 755,452.5 747.5,455 737.5,452.5 730,449 720,447.5 710,445 700,447.5 698,446 682,444 670,448 668,452 660,453 652,454 648,460 646,466 648,472 646,478 641,483 644,486 650,489 652,496 652,506 652,512 656,516 662,518 668,524 674,528 682,532 692,535 700,534 708,533 714,542 716,548 720,552 724,558 720,564 710,566 706,572 706,576 700,582 696,588 698,598 704,602 706,606 694,610 684,612 680,620 672,624 674,630 666,636 656,638 650,644 646,638 640,634 628,630 620,634 626,642 620,646 610,642 598,640 590,640 580,640 572.5,632.5 560,634 552.5,640 540,642.5 537.5,652.5 530,660 520,662.5 515,670 505,672.5 502.5,677.5 490,675 487.5,680 500,687.5 507.5,695 510,702.5 502.5,706 490,707.5 472.5,706 455,702.5 440,699 427.5,690 420,682.5 420,670 417.5,660 410,655 407.5,647.5 400,646 390,647.5 380,649 370,652.5 360,651 350,652.5 340,652.5 325,650 315,645 305,642.5 302.5,652.5 292.5,655 285,650 275,640 272.5,650 265,655 255,660 245,662.5 237.5,670 237.5,680 227.5,679 210,677.5 202.5,670 195,662.5 190,656 180,650 171.6,638.8 168.4,634 162,638.8 152.4,640.4 142.8,638.8 133.2,642 126.8,640.4 117.2,632.4 110.8,635.6 104.4,643.6 101.2,638.8 104.4,632.4 101.2,624.4 94.8,619.6 86.8,616.4 90,610 93.2,603.6 94.8,597.2 91.6,587.6 91.6,579.6 80.4,578 72.4,574.8 66,568.4 64.4,563.6 69.2,559.6 82,557.2 90,554 96.4,557.2 106,558.8 117.2,556.4 123.6,552.4 125.2,547.6 117.2,544.4 106,539.6 101.2,536.4 102.8,530 102,528 104,522 100,518 100,512 90,502 80,496 70,492 63,488 62,480 65,474 70,468 70,460 76,454 84,452 92,446 96,438 108,434 118,430 122,425 134,422 138,416 150,414 162,410 178,410 190,409 202,406 204,400 210,396 216,394 222,396 230,400 240,404 246,402 248,394 250,388 256,384 260,376 264,370 268,366 274,362 278,358 284,356 290,355 297,351 293,345.6 289,340 286.8,333.6 282,329 279.6,325 278,319 275.6,315 266,314.4 258,311 250,310.4 248,304 240,298 234,290 226,282 220,278 214,274 214,264 218,258 216,254 208,252 200,250 198,248 204,238 208,234 218,229 226,226 234,220 238,212 246,210 258,210 266,206 270,201 276,199 290,202 300,206 306,214 316,212 324,206 334,204 342,202 350,196 358,190 366,184 378,180 384,174 388,164 398,152 406,146 412,136 414,130 420,125 430,130 438,134 446,138 450,136 460,134 474,132 486,130 490,129.8 494.8,133.3 497,135.7 511.4,131 510.2,123.8 506.7,119 502,113 496,112 490,108.3 486.4,101.2 479.3,94 471,88 463.8,82 457.9,77.4" fill="none" stroke="#7f7f6e" stroke-width="3" stroke-linejoin="round"/>
<path d="M411.3,151.1L387.2,140.5M387.2,140.5L387.9,130.6L391.8,142.5M391.7,184.1L379.7,157.1M379.7,157.1L386.2,150.8M381.0,160.0L387.5,153.7M382.3,162.9L388.8,156.7M429.3,162.5L399.2,164.6M399.2,164.6L395.2,155.4L404.2,164.2M450.3,171.5L424.8,170.6M424.8,170.6L421.7,161.1L429.8,170.7M354.2,210.5L345.2,180.5M345.2,180.5L352.4,175.1M346.1,183.5L353.3,178.2M347.0,186.6L354.3,181.2M348.0,189.7L355.2,184.3M364.7,190.1L361.7,178.7M361.7,178.7L369.9,173.0L363.0,183.5M410.7,187.7L438.3,199.1M438.3,199.1L437.9,208.1M435.3,197.9L434.9,206.9M432.4,196.7L432.0,205.6M429.4,195.4L429.0,204.4M390.2,214.1L370.7,197.6M370.7,197.6L373.8,189.2M373.2,199.7L376.3,191.2M375.6,201.7L378.7,193.3M421.8,212.6L397.7,195.5M397.7,195.5L400.4,185.9L401.8,198.4M402.6,199.0L405.0,190.3M420.3,229.1L396.2,212.6M396.2,212.6L398.5,203.9M398.9,214.4L401.1,205.7M401.5,216.2L403.8,207.5M205.6,236.6L175.5,239.6M175.5,239.6L171.2,230.6L180.5,239.1M181.5,239.0L177.2,230.0L186.5,238.5M222.1,241.1L222.1,215.6M222.1,215.6L231.5,212.2L222.1,220.6M265.6,232.1L238.6,224.6M238.6,224.6L237.9,215.7M241.7,225.5L241.0,216.5M244.8,226.3L244.1,217.4M247.8,227.2L247.1,218.2M219.1,272.7L195.0,254.7M195.0,254.7L197.9,245.1L199.0,257.7M258.1,265.2L235.0,247.1M235.0,247.1L237.8,238.6M237.5,249.1L240.3,240.6M240.0,251.1L242.8,242.5M242.6,253.0L245.3,244.5M273.1,289.2L240.1,269.7M240.1,269.7L241.9,259.8L244.4,272.2M245.3,272.7L246.9,263.9M248.0,274.3L249.7,265.5M250.8,276.0L252.4,267.1M246.1,283.8L228.7,287.7M228.7,287.7L223.3,279.3L233.6,286.6M268.6,305.7L241.6,293.7M241.6,293.7L242.3,283.7L246.2,295.7M318.2,256.2L294.1,239.6M294.1,239.6L296.4,230.9M296.8,241.5L299.0,232.7M299.4,243.3L301.7,234.6M302.1,245.1L304.3,236.4M306.2,268.2L279.1,260.7M279.1,260.7L278.4,251.7M282.2,261.5L281.5,252.5M285.3,262.4L284.6,253.4M288.4,263.2L287.7,254.3M303.2,272.7L271.6,269.7M271.6,269.7L269.4,261.0M274.8,270.0L272.5,261.3M278.0,270.3L275.7,261.6M281.2,270.6L278.9,261.9M284.4,270.9L282.1,262.2M306.2,296.7L291.1,274.2M291.1,274.2L296.5,266.9M292.9,276.8L298.2,269.6M294.7,279.5L300.0,272.2M296.5,282.2L301.8,274.9M357.2,292.2L330.2,271.2M330.2,271.2L333.2,261.7L334.1,274.2M342.2,304.2L333.2,280.2M333.2,280.2L340.8,273.7L334.9,284.9M411.3,277.2L384.2,265.2M384.2,265.2L384.9,255.2L388.8,267.2M313.7,325.2L306.2,304.2M306.2,304.2L313.1,298.5M307.2,307.2L314.2,301.5M308.3,310.2L315.2,304.5M309.4,313.2L316.3,307.5M447.3,310.2L414.3,313.2M414.3,313.2L410.4,305.1M417.5,312.9L413.6,304.8M420.6,312.6L416.8,304.5M423.8,312.3L420.0,304.2M450.3,247.1L441.3,244.1M441.3,244.1L441.0,234.1L446.0,245.7M500.6,142.0L496.7,113.5M496.7,113.5L504.6,109.3M497.1,116.7L505.1,112.5M497.5,119.9L505.5,115.7M498.0,123.0L505.9,118.8M644.7,121.6L619.2,136.0M619.2,136.0L612.4,130.2M622.0,134.5L615.1,128.6M624.8,132.9L617.9,127.0M627.5,131.3L620.7,125.5M586.2,149.5L558.5,148.0M558.5,148.0L555.9,139.4M561.7,148.2L559.1,139.6M564.9,148.4L562.3,139.8M568.1,148.6L565.5,140.0M559.1,167.6L531.5,160.1M531.5,160.1L530.7,151.1M534.6,160.9L533.8,151.9M537.7,161.7L536.9,152.8M540.8,162.6L540.0,153.6M675.6,180.5L674.7,152.6M674.7,152.6L683.1,149.2M674.8,155.8L683.2,152.4M675.0,158.9L683.3,155.6M675.1,162.1L683.4,158.8M517.1,169.1L484.1,176.6M484.1,176.6L478.6,168.2L488.9,175.5M454.0,193.7L478.0,177.5M478.0,177.5L485.3,182.8M475.4,179.3L482.7,184.6M472.7,181.1L480.0,186.3M470.1,182.8L477.4,188.1M506.0,205.7L517.1,179.6M517.1,179.6L526.1,180.1M515.8,182.5L524.8,183.0M514.6,185.5L523.6,185.9M455.5,167.6L431.5,173.6M431.5,173.6L426.5,166.1M434.6,172.8L429.6,165.3M437.7,172.0L432.7,164.6M607.2,227.6L597.6,198.5M597.6,198.5L604.6,192.9M598.6,201.5L605.6,196.0M599.6,204.6L606.6,199.0M600.6,207.6L607.6,202.0M610.2,211.1L635.7,202.1M635.7,202.1L642.1,209.8L631.0,203.8M685.3,209.6L666.6,186.5M666.6,186.5L671.8,177.9L669.8,190.4M646.2,226.1L688.3,205.1M688.3,205.1L694.8,211.3M685.4,206.5L691.9,212.7M682.5,208.0L689.1,214.2M679.7,209.4L686.2,215.6M713.8,254.7L690.7,235.7M690.7,235.7L693.6,227.2M693.1,237.8L696.1,229.3M695.6,239.8L698.6,231.3M698.1,241.8L701.1,233.3M499.1,247.7L487.1,220.7M487.1,220.7L494.3,213.8L489.1,225.3M490.1,238.7L440.5,247.1M440.5,247.1L435.6,238.5L445.4,246.3M446.4,246.1L441.5,237.5L451.4,245.3M527.6,256.2L503.6,237.5M503.6,237.5L506.3,229.0M506.1,239.5L508.9,230.9M508.6,241.5L511.4,232.9M511.2,243.4L513.9,234.8M439.0,274.2L463.0,254.7M463.0,254.7L470.8,259.3M460.5,256.7L468.3,261.3M458.1,258.7L465.8,263.3M455.6,260.7L463.3,265.3M568.1,295.8L541.7,280.8M541.7,280.8L543.2,271.9M544.5,282.4L546.0,273.5M547.3,283.9L548.8,275.1M550.1,285.5L551.6,276.6M604.2,297.6L562.1,296.7M562.1,296.7L558.9,287.2L567.1,296.8M598.2,310.2L574.7,293.7M574.7,293.7L577.1,285.0M577.4,295.5L579.7,286.9M580.0,297.4L582.3,288.7M582.6,299.2L584.9,290.5M637.2,307.2L612.6,289.8M612.6,289.8L615.0,281.1M615.2,291.6L617.6,283.0M617.8,293.5L620.2,284.8M620.4,295.3L622.8,286.7M688.3,304.8L660.6,294.6M660.6,294.6L660.7,285.6M663.6,295.7L663.7,286.7M666.6,296.8L666.7,287.8M669.6,297.9L669.7,288.9M722.8,301.8L701.2,282.6M701.2,282.6L704.5,274.2M703.6,284.7L706.9,276.3M706.0,286.8L709.3,278.5M708.3,289.0L711.7,280.6M593.7,327.0L575.6,308.7M575.6,308.7L579.5,300.6M577.9,311.0L581.8,302.9M580.1,313.3L584.0,305.1M582.4,315.6L586.2,307.4M796.7,180.9L766.7,181.5M766.7,181.5L763.1,172.2L771.7,181.4M769.7,258.1L759.2,229.0M759.2,229.0L766.1,223.2M760.2,232.0L767.2,226.2M761.3,235.0L768.2,229.2M762.4,238.0L769.3,232.2M713.5,255.1L700.9,241.6M700.9,241.6L705.0,233.6M703.1,243.9L707.2,235.9M705.3,246.3L709.4,238.2M769.1,279.7L799.1,291.1M799.1,291.1L799.0,300.1M796.1,290.0L796.0,299.0M793.1,288.9L793.0,297.9M790.1,287.7L790.0,296.7M832.7,294.7L826.1,266.5M826.1,266.5L834.5,261.0L827.3,271.4M722.5,301.7L701.5,283.6M701.5,283.6L704.7,275.2M703.9,285.7L707.1,277.3M706.4,287.8L709.5,279.4M708.8,289.9L712.0,281.5M847.1,323.6L825.5,302.6M825.5,302.6L829.6,293.4L829.1,306.0M800.6,333.8L790.1,306.8M790.1,306.8L797.6,300.2L791.9,311.4M818.6,315.2L785.6,330.2M785.6,330.2L778.6,323.0L790.1,328.1M796.1,357.2L787.1,331.7M787.1,331.7L794.8,325.3L788.8,336.4M866.7,348.2L841.7,330.8M841.7,330.8L844.3,321.1L845.8,333.6M766.7,336.8L742.9,318.8M742.9,318.8L745.6,310.2M745.5,320.7L748.2,312.1M748.0,322.6L750.7,314.0M750.6,324.6L753.3,316.0M731.5,340.7L709.9,320.6M709.9,320.6L713.4,312.3M712.3,322.8L715.8,314.5M714.6,324.9L718.1,316.6M716.9,327.1L720.4,318.8M839.6,358.7L816.5,338.6M816.5,338.6L819.7,330.2M818.9,340.7L822.2,332.3M821.3,342.8L824.6,334.4M823.8,344.9L827.0,336.5M760.1,372.2L745.9,345.8M745.9,345.8L752.6,338.4L748.3,350.2M718.0,373.7L700.9,355.1M700.9,355.1L705.0,347.1M703.1,357.5L707.2,349.5M705.2,359.8L709.4,351.8M707.4,362.2L711.5,354.2M850.2,374.6L825.5,358.1M825.5,358.1L827.7,349.4M828.2,359.9L830.3,351.2M830.8,361.7L833.0,352.9M833.5,363.5L835.7,354.7M809.6,378.2L791.0,364.1M791.0,364.1L793.6,355.5M793.5,366.0L796.2,357.4M796.1,368.0L798.7,359.4M798.6,369.9L801.3,361.3M875.7,373.7L845.0,366.8M845.0,366.8L843.9,357.9M848.2,367.5L847.0,358.6M851.3,368.2L850.1,359.3M854.4,368.9L853.3,360.0M745.0,378.2L730.9,361.7M730.9,361.7L735.4,353.9M733.0,364.1L737.4,356.3M735.1,366.6L739.5,358.7M737.2,369.0L741.6,361.2M290.2,375.6L261.7,350.0M261.7,350.0L265.4,340.7L265.4,353.4M266.2,354.0L269.9,344.7L269.9,357.4M243.7,404.1L258.7,378.6M258.7,378.6L268.5,380.4L256.2,382.9M233.2,411.6L217.6,385.5M217.6,385.5L223.2,378.5M219.2,388.2L224.9,381.2M220.9,391.0L226.5,384.0M222.5,393.7L228.2,386.7M221.8,442.5L239.2,419.1M239.2,419.1L248.8,422.0L236.2,423.1M161.7,470.2L176.1,444.6M176.1,444.6L186.0,446.3L173.7,449.0M200.2,464.1L181.5,439.5M181.5,439.5L186.4,432.0M183.5,442.1L188.4,434.5M185.4,444.6L190.3,437.1M182.1,476.8L155.7,463.5M155.7,463.5L156.7,454.6M158.6,465.0L159.6,456.0M161.4,466.4L162.5,457.5M89.0,467.7L120.6,468.6M120.6,468.6L123.7,478.1L115.6,468.5M98.0,492.7L80.9,469.5M80.9,469.5L86.4,461.2L83.9,473.6M150.6,492.7L122.1,499.6M122.1,499.6L116.5,491.3L126.9,498.4M229.6,476.2L257.8,462.6M257.8,462.6L265.0,469.6L253.3,464.8M215.2,516.7L216.7,478.6M216.7,478.6L226.2,475.5L216.5,483.6M216.4,484.6L225.0,481.8M216.3,487.8L224.9,485.0M216.2,490.9L224.8,488.2M134.1,524.2L105.0,523.3M105.0,523.3L101.8,513.8L110.0,523.5M111.0,523.5L108.1,514.9M114.2,523.6L111.3,515.0M117.3,523.7L114.5,515.1M291.7,492.7L263.8,484.6M263.8,484.6L263.1,474.6L268.6,486.0M269.6,486.2L269.0,477.3M272.6,487.1L272.1,478.1M326.3,473.2L296.8,469.2M296.8,469.2L294.7,459.5L301.8,469.9M302.8,470.0L300.9,461.2M306.0,470.5L304.0,461.7M309.1,470.9L307.2,462.1M302.3,449.1L273.7,438.6M273.7,438.6L273.8,429.6M276.7,439.7L276.8,430.7M279.7,440.8L279.8,431.8M282.7,441.9L282.8,432.9M270.7,435.6L300.8,410.1M300.8,410.1L308.6,414.5M298.3,412.2L306.1,416.6M295.9,414.2L303.7,418.7M329.3,380.1L333.8,353.6M333.8,353.6L342.6,352.0M333.2,356.8L342.1,355.2M332.7,359.9L341.6,358.3M311.3,419.1L314.3,392.7M314.3,392.7L323.0,390.6M313.9,395.9L322.7,393.7M313.5,399.0L322.3,396.9M313.2,402.2L321.9,400.1M350.3,402.6L330.8,381.6M330.8,381.6L334.9,373.6M333.0,383.9L337.1,375.9M335.1,386.3L339.2,378.2M337.3,388.6L341.4,380.6M350.3,516.7L338.3,494.8M338.3,494.8L344.2,488.0M339.8,497.6L345.8,490.8M341.4,500.4L347.3,493.6M342.9,503.2L348.8,496.4M350.3,483.7L343.7,467.7M343.7,467.7L350.3,461.7M344.9,470.7L351.6,464.6M346.1,473.7L352.8,467.6M302.3,543.7L282.1,521.8M282.1,521.8L286.7,512.9L285.5,525.5M286.2,526.2L290.3,518.2M288.4,528.6L292.5,520.6M290.5,530.9L294.7,523.0M348.8,543.7L327.2,531.1M327.2,531.1L328.8,522.3M329.9,532.7L331.5,523.9M332.7,534.3L334.3,525.5M335.5,535.9L337.1,527.1M266.2,547.0L258.1,531.1M258.1,531.1L264.2,524.5M259.6,534.0L265.7,527.4M261.0,536.8L267.2,530.2M445.6,309.0L415.6,328.5M415.6,328.5L408.4,323.1M418.3,326.8L411.1,321.4M421.0,325.0L413.8,319.6M423.6,323.3L416.4,317.9M496.7,333.0L468.7,329.1M468.7,329.1L466.7,319.3L473.7,329.8M429.1,363.1L410.5,339.9M410.5,339.9L415.7,331.4L413.6,343.8M398.5,365.5L378.9,345.9M378.9,345.9L383.2,336.9L382.5,349.5M406.6,369.7L391.0,345.6M391.0,345.6L397.0,337.7L393.7,349.8M459.1,370.6L443.5,342.9M443.5,342.9L450.0,335.3L446.0,347.3M481.7,387.1L470.5,355.0M470.5,355.0L477.5,349.3M471.6,358.0L478.6,352.3M472.6,361.0L479.6,355.3M473.7,364.0L480.7,358.4M474.7,367.1L481.7,361.4M383.5,383.5L365.4,358.0M365.4,358.0L370.6,350.6M367.3,360.6L372.4,353.2M369.1,363.2L374.3,355.8M464.2,392.2L449.5,367.0M449.5,367.0L455.9,359.3L452.0,371.3M414.7,399.7L394.0,377.5M394.0,377.5L398.5,368.6L397.4,381.1M378.6,404.2L357.9,381.7M357.9,381.7L362.5,372.8L361.3,385.4M456.1,411.1L436.6,376.6M436.6,376.6L443.1,369.0L439.1,380.9M439.6,381.8L446.1,374.2L442.0,386.2M496.7,416.5L481.1,392.5M481.1,392.5L486.5,385.3M482.8,395.2L488.2,388.0M484.5,397.9L490.0,390.7M486.3,400.5L491.7,393.4M511.7,413.5L487.1,397.0M487.1,397.0L489.2,388.3M489.7,398.8L491.9,390.0M492.4,400.6L494.5,391.8M363.6,414.7L344.4,394.0M344.4,394.0L348.5,386.0M346.6,396.3L350.7,388.3M348.8,398.7L352.9,390.7M558.2,345.6L528.8,329.4M528.8,329.4L530.2,320.5M531.6,331.0L533.0,322.1M534.4,332.5L535.8,323.6M537.2,334.1L538.6,325.2M569.3,364.6L554.6,338.4M554.6,338.4L561.1,330.8L557.1,342.8M584.7,349.5L585.3,313.5M585.3,313.5L593.8,310.6M585.2,316.7L593.7,313.8M585.1,319.9L593.7,317.0M585.1,323.1L593.6,320.2M585.0,326.3L593.5,323.4M618.3,326.4L595.2,309.9M595.2,309.9L597.6,301.2M597.8,311.8L600.2,303.1M600.4,313.6L602.8,305.0M603.0,315.5L605.4,306.8M567.8,387.7L543.8,368.5M543.8,368.5L546.7,359.9M546.3,370.5L549.2,361.9M548.8,372.5L551.7,363.9M551.3,374.5L554.2,365.9M573.8,399.7L562.1,386.5M562.1,386.5L566.9,377.7L565.4,390.2M598.8,396.1L596.7,363.7M596.7,363.7L604.9,360.0M596.9,366.9L605.1,363.2M597.1,370.1L605.3,366.4M597.3,373.2L605.5,369.6M621.3,408.7L602.7,387.7M602.7,387.7L607.0,379.8M604.8,390.1L609.1,382.2M606.9,392.5L611.2,384.6M609.0,394.9L613.3,387.0M630.3,376.6L616.2,355.0M616.2,355.0L621.6,347.8M617.9,357.6L623.3,350.4M619.7,360.3L625.1,353.1M621.4,363.0L626.8,355.8M563.3,420.1L539.6,404.5M539.6,404.5L541.9,394.8L543.8,407.3M630.3,426.7L614.7,412.0M614.7,412.0L618.2,403.7M617.0,414.2L620.6,405.9M619.3,416.4L622.9,408.1M621.7,418.6L625.2,410.3M618.3,444.7L598.2,422.5M598.2,422.5L602.4,414.6M600.3,424.9L604.5,416.9M602.5,427.3L606.7,419.3M604.6,429.6L608.8,421.7M411.1,446.2L388.0,425.5M388.0,425.5L391.3,417.2M390.3,427.7L393.7,419.3M392.7,429.8L396.1,421.4M462.1,444.7L437.5,433.0M437.5,433.0L438.5,423.1L442.0,435.2M486.2,438.7L458.5,427.0M458.5,427.0L459.0,417.0L463.1,429.0M507.2,444.1L483.8,423.7M483.8,423.7L487.4,414.4L487.5,427.0M488.3,427.7L491.5,419.3M490.7,429.8L493.9,421.4M534.8,456.8L519.8,429.7M519.8,429.7L526.3,422.2L522.2,434.1M555.2,465.8L546.8,429.7M546.8,429.7L554.4,424.8M547.5,432.8L555.1,427.9M548.3,436.0L555.8,431.0M549.0,439.1L556.5,434.2M597.3,459.8L573.8,444.7M573.8,444.7L576.0,435.0L578.1,447.4M615.3,462.8L591.9,443.5M591.9,443.5L595.2,434.1L595.7,446.7M630.3,463.7L619.2,448.0M619.2,448.0L624.3,440.6M621.0,450.7L626.2,443.2M622.9,453.3L628.0,445.9M496.7,465.8L468.7,453.8M468.7,453.8L469.3,443.8L473.3,455.7M486.2,489.8L457.6,472.7M457.6,472.7L459.3,463.8M460.4,474.3L462.1,465.5M463.1,476.0L464.8,467.1M465.9,477.6L467.6,468.8M468.6,479.3L470.3,470.4M462.7,510.2L463.6,481.1M463.6,481.1L472.2,478.3M463.5,484.3L472.1,481.5M463.4,487.5L472.0,484.7M502.7,510.2L473.5,501.8M473.5,501.8L472.9,491.8L478.3,503.2M522.2,487.7L509.6,468.8M509.6,468.8L515.5,460.7L512.4,472.9M553.7,480.2L531.8,464.6M531.8,464.6L534.5,454.9L535.9,467.5M546.2,520.7L537.2,492.8M537.2,492.8L545.1,486.7L538.7,497.6M582.9,504.8L555.8,485.6M555.8,485.6L558.5,475.9L559.9,488.5M560.7,489.1L563.1,480.4M563.3,490.9L565.7,482.2M573.8,519.8L552.8,500.6M552.8,500.6L556.3,492.3M555.2,502.8L558.6,494.4M557.5,504.9L561.0,496.6M601.8,486.8L585.9,463.1M585.9,463.1L591.2,455.8M587.6,465.7L592.9,458.5M589.4,468.4L594.7,461.1M612.3,516.8L593.7,497.6M593.7,497.6L598.0,488.6L597.1,501.2M630.3,504.8L613.2,486.8M613.2,486.8L617.6,477.8L616.6,490.4M360.6,492.8L342.6,470.6M342.6,470.6L347.2,462.9M344.6,473.1L349.3,465.3M346.6,475.5L351.3,467.8M399.7,495.8L372.9,481.1M372.9,481.1L374.5,471.2L377.3,483.5M378.2,484.0L379.7,474.1L382.6,486.4M348.0,525.2L336.9,496.1M336.9,496.1L343.7,490.2M338.0,499.1L344.9,493.2M339.2,502.1L346.0,496.2M414.7,522.8L388.0,505.1M388.0,505.1L390.1,496.4M390.6,506.9L392.7,498.1M393.3,508.6L395.4,499.9M396.0,510.4L398.1,501.7M537.2,522.8L515.6,511.1M515.6,511.1L516.9,502.2M518.4,512.6L519.7,503.7M521.2,514.2L522.5,505.3M524.0,515.7L525.3,506.8M348.6,521.6L336.6,501.5M336.6,501.5L342.3,494.5M338.2,504.2L343.9,497.3M339.9,507.0L345.6,500.0M341.5,509.7L347.2,502.8M348.6,551.7L330.9,534.5M330.9,534.5L334.6,526.3M333.2,536.8L336.9,528.5M335.5,539.0L339.2,530.8M371.1,578.7L359.4,550.5M359.4,550.5L366.1,544.4M360.7,553.4L367.3,547.3M361.9,556.4L368.5,550.3M363.1,559.3L369.7,553.2M395.5,557.1L401.5,536.6M401.5,536.6L411.5,536.0L400.1,541.4M423.7,581.7L413.5,553.5M413.5,553.5L420.4,547.7M414.6,556.5L421.5,550.7M415.7,559.5L422.6,553.7M416.7,562.5L423.7,556.7M417.8,565.5L424.7,559.7M462.7,547.1L442.0,526.4M442.0,526.4L445.8,518.3M444.3,528.7L448.1,520.5M446.5,531.0L450.3,522.8M448.8,533.2L452.6,525.1M480.8,556.2L467.5,530.6M467.5,530.6L473.6,524.0M469.0,533.5L475.1,526.9M470.5,536.3L476.6,529.7M472.0,539.2L478.0,532.5M468.7,587.7L448.0,565.5M448.0,565.5L452.1,557.4M450.2,567.8L454.3,559.8M452.4,570.1L456.5,562.1M454.6,572.5L458.7,564.5M423.1,613.5L423.7,583.5M423.7,583.5L432.2,580.6M423.6,586.7L432.1,583.8M423.6,589.9L432.1,587.0M423.5,593.1L432.0,590.2M465.7,610.2L441.7,592.5M441.7,592.5L444.5,582.9L445.7,595.5M375.6,607.2L350.4,591.0M350.4,591.0L352.4,582.2M353.1,592.7L355.1,583.9M355.8,594.5L357.8,585.7M358.5,596.2L360.5,587.4M394.6,640.2L385.0,610.5M385.0,610.5L392.1,605.0M385.9,613.6L393.0,608.0M386.9,616.6L394.0,611.1M387.9,619.6L395.0,614.1M519.8,631.2L498.8,605.7M498.8,605.7L503.3,598.0M500.8,608.2L505.4,600.4M502.8,610.6L507.4,602.9M504.9,613.1L509.4,605.4M515.3,664.3L494.6,640.5M494.6,640.5L498.9,632.7M496.7,643.0L501.0,635.1M498.8,645.4L503.1,637.5M500.9,647.8L505.2,639.9M503.3,510.5L475.0,500.9M475.0,500.9L474.8,490.9L479.8,502.5M534.8,572.7L508.1,558.0M508.1,558.0L509.5,549.1M510.9,559.5L512.3,550.6M513.7,561.0L515.1,552.2M516.5,562.6L517.9,553.7M510.2,575.1L499.7,548.9M499.7,548.9L507.1,542.3L501.5,553.6M543.8,533.6L517.1,514.4M517.1,514.4L519.5,505.8M519.7,516.3L522.1,507.6M522.3,518.2L524.7,509.5M524.9,520.0L527.3,511.4M576.8,518.6L553.1,500.9M553.1,500.9L555.7,492.3M555.7,502.8L558.3,494.2M558.3,504.7L560.8,496.1M560.8,506.6L563.4,498.0M603.9,539.6L580.2,515.9M580.2,515.9L584.0,507.8M582.4,518.2L586.2,510.0M584.7,520.4L588.5,512.3M586.9,522.7L590.7,514.5M567.8,564.6L537.8,554.7M537.8,554.7L537.5,544.7L542.6,556.2M594.9,575.7L566.6,562.5M566.6,562.5L567.5,552.5L571.2,564.6M609.9,581.7L585.9,564.0M585.9,564.0L588.4,555.3M588.4,565.9L591.0,557.2M591.0,567.8L593.5,559.1M593.6,569.7L596.1,561.0M558.8,614.1L540.8,570.0M540.8,570.0L548.2,563.3L542.7,574.6M543.1,575.5L549.7,569.5M544.3,578.5L551.0,572.4M545.5,581.5L552.2,575.4M612.9,560.7L590.7,542.6M590.7,542.6L593.9,533.2L594.5,545.8M624.3,620.7L613.2,593.7M613.2,593.7L619.8,587.6M614.4,596.7L621.1,590.6M615.6,599.6L622.3,593.6M616.8,602.6L623.5,596.5M630.3,581.7L619.2,566.7M619.2,566.7L624.2,559.2M621.1,569.2L626.1,561.7M623.0,571.8L628.0,564.3M595.8,596.7L586.8,573.6M586.8,573.6L593.5,567.6M587.9,576.6L594.7,570.6M589.1,579.5L595.8,573.6M590.2,582.5L597.0,576.6M670.2,438.6L651.0,420.9M651.0,420.9L654.5,412.6M653.4,423.1L656.8,414.8M655.7,425.2L659.2,416.9M658.1,427.4L661.5,419.1M710.8,429.0L687.1,420.9M687.1,420.9L686.9,411.9M690.1,421.9L689.9,412.9M693.1,423.0L692.9,414.0M755.2,441.6L753.7,420.9M753.7,420.9L762.8,416.8L754.1,425.9M754.2,426.9L762.4,423.2M754.4,430.1L762.6,426.4M809.9,434.1L787.7,420.9M787.7,420.9L789.5,411.1L792.0,423.5M662.1,555.1L635.1,502.6M635.1,502.6L641.2,496.0M636.6,505.4L642.7,498.8M638.0,508.3L644.1,501.7M639.5,511.1L645.6,504.5M641.0,514.0L647.1,507.4M707.2,541.6L672.0,510.7M672.0,510.7L675.7,501.4L675.8,514.0M676.5,514.7L679.8,506.3M678.9,516.8L682.2,508.4M681.3,518.9L684.6,510.5M683.8,521.0L687.0,512.6M692.2,560.2L677.7,533.5M677.7,533.5L684.4,526.0L680.1,537.9M611.7,561.7L592.5,540.7M592.5,540.7L597.1,531.9L595.8,544.4M629.1,567.7L626.7,542.5M626.7,542.5L635.7,538.2L627.2,547.5M590.7,576.8L565.4,561.7M565.4,561.7L567.3,551.9L569.7,564.3M594.6,594.8L586.5,561.7M586.5,561.7L593.9,556.7M587.2,564.8L594.7,559.8M588.0,568.0L595.5,563.0M588.7,571.1L596.2,566.1M589.5,574.2L597.0,569.2M643.2,588.8L621.0,567.7M621.0,567.7L624.6,559.5M623.3,569.9L626.9,561.7M625.6,572.1L629.2,563.9M628.0,574.3L631.5,566.1M671.7,596.3L649.5,575.6M649.5,575.6L653.0,567.3M651.9,577.7L655.4,569.5M654.2,579.9L657.7,571.6M656.5,582.1L660.1,573.8M663.6,606.8L651.0,583.1M651.0,583.1L657.0,576.4M652.5,585.9L658.5,579.2M654.0,588.7L660.0,582.0M693.7,606.8L682.6,578.6M682.6,578.6L689.3,572.6M683.7,581.5L690.5,575.6M684.9,584.5L691.6,578.6M686.1,587.5L692.8,581.5M698.2,584.6L729.7,575.6M729.7,575.6L735.6,583.7L724.9,576.9M623.7,621.8L610.5,593.3M610.5,593.3L616.9,586.9M611.8,596.2L618.2,589.8M613.2,599.1L619.6,592.7M614.5,602.0L620.9,595.6M653.7,627.8L627.0,605.6M627.0,605.6L630.0,597.1M629.5,607.6L632.5,599.2M631.9,609.7L635.0,601.2M634.4,611.7L637.4,603.3M636.8,613.8L639.9,605.3M644.7,635.3L628.5,613.1M628.5,613.1L633.5,605.6M630.4,615.7L635.4,608.2M632.3,618.3L637.3,610.8M566.6,564.7L536.6,555.7M536.6,555.7L536.0,545.8L541.4,557.2M557.6,612.8L539.6,567.7M539.6,567.7L547.1,561.1L541.5,572.4M541.8,573.3L548.5,567.3M543.0,576.3L549.7,570.3M544.2,579.3L550.9,573.3M134.7,524.6L105.0,523.4M105.0,523.4L101.9,513.9L110.0,523.6M119.7,562.2L92.9,551.7M92.9,551.7L93.2,541.7L97.6,553.5M98.5,553.8L98.8,544.9M204.7,561.6L191.7,538.4M191.7,538.4L198.3,530.9L194.2,542.8M242.2,567.6L206.2,561.6M206.2,561.6L204.5,552.7M209.3,562.1L207.7,553.2M212.5,562.6L210.8,553.8M215.6,563.1L214.0,554.3M218.8,563.7L217.1,554.8M263.8,542.0L236.8,554.1M236.8,554.1L230.5,547.6M239.7,552.8L233.5,546.3M242.6,551.5L236.4,545.0M245.6,550.2L239.3,543.7M281.8,551.1L259.3,532.4M259.3,532.4L262.7,523.0L263.2,535.6M300.8,566.7L283.6,523.4M283.6,523.4L291.1,516.8L285.5,528.1M329.9,565.2L304.7,547.4M304.7,547.4L307.3,537.8L308.7,550.3M299.2,590.1L280.6,556.5M280.6,556.5L287.2,548.9L283.1,560.8M318.8,595.5L291.7,581.1M291.7,581.1L293.0,572.2M294.6,582.6L295.8,573.7M297.4,584.1L298.7,575.2M300.2,585.6L301.5,576.7M350.3,548.6L327.2,530.9M327.2,530.9L329.9,522.3M329.7,532.9L332.4,524.3M332.3,534.8L335.0,526.2M334.8,536.8L337.5,528.2M173.7,632.1L191.1,619.5M191.1,619.5L199.4,625.1L187.1,622.5M197.7,649.2L179.1,626.1M179.1,626.1L184.3,617.6L182.3,630.0M218.8,647.1L216.7,617.7M216.7,617.7L225.8,613.6L217.0,622.7M661.0,365.2L640.9,342.9M640.9,342.9L645.1,335.0M643.0,345.3L647.3,337.4M645.2,347.7L649.4,339.7M711.2,401.2L706.7,372.7M706.7,372.7L715.4,367.8L707.4,377.6M666.1,413.2L643.9,392.5M643.9,392.5L647.8,383.3L647.6,395.9M670.6,438.7L649.9,416.5M649.9,416.5L654.0,408.5M652.1,418.9L656.2,410.8M654.3,421.2L658.4,413.2M656.5,423.5L660.5,415.5M712.7,429.7L685.9,413.5M685.9,413.5L687.7,404.7M688.7,415.2L690.4,406.3M691.4,416.8L693.2,408.0M694.2,418.5L695.9,409.7M747.2,416.2L723.5,398.5M723.5,398.5L726.4,388.9L727.5,401.5M756.2,441.7L753.2,411.7M753.2,411.7L761.3,407.8M753.5,414.9L761.6,411.0M753.9,418.1L762.0,414.2M754.2,421.3L762.3,417.4M820.2,381.7L788.0,366.7M788.0,366.7L788.8,357.7M790.9,368.0L791.7,359.1M793.8,369.4L794.6,360.4M796.7,370.7L797.5,361.8M844.8,404.2L819.6,386.5M819.6,386.5L821.9,377.8M822.2,388.3L824.5,379.6M824.8,390.2L827.2,381.5M827.4,392.0L829.8,383.3M811.8,434.2L786.5,416.5M786.5,416.5L789.1,406.9L790.6,419.4" fill="none" stroke="#000" stroke-width="1" stroke-linejoin="miter" shape-rendering="crispEdges"/>
<g font-family="Noto Sans CJK SC, sans-serif" font-size="12.4" font-weight="400" fill="#000">
<text x="568" y="147">汤河口</text>
<text x="777.5" y="178">上甸子</text>
<text x="356" y="203">佛爷顶</text>
<text x="288.5" y="274">延庆</text>
<text x="676" y="300">密云</text>
<text x="575" y="310">怀柔</text>
<text x="396" y="367">昌平</text>
<text x="787" y="390">平谷</text>
<text x="569" y="410">顺义</text>
<text x="429" y="470">海淀</text>
<text x="517.5" y="484">朝阳</text>
<text x="385" y="487">石景山</text>
<text x="365" y="514">门头沟</text>
<text x="407.5" y="520">丰台</text>
<text x="167.5" y="475">斋堂</text>
<text x="183.5" y="581">霞云岭</text>
<text x="386" y="562">房山</text>
<text x="456" y="585">大兴</text>
<text x="500" y="547.5">观象台</text>
<text x="631" y="531.5">通州</text>
</g>
<g font-family="Liberation Serif, Noto Serif CJK SC, serif" fill="#000">
<text x="280" y="431" font-size="21" font-weight="300" textLength="106" lengthAdjust="spacingAndGlyphs">高山玫瑰园</text>
<text x="324.5" y="452.5" font-size="20.5">15</text>
<text x="433.5" y="698" font-size="20.5" font-weight="300" textLength="63" lengthAdjust="spacingAndGlyphs">马家屯</text>
<text x="460" y="719" font-size="20.5">3</text>
</g>
<path d="M312.5,437 L321.5,452.5 L303.5,452.5 Z" fill="#000"/>
<path d="M440,704.5 L455.5,704.5 L447.7,717.5 Z" fill="#000"/>
<circle cx="332.5" cy="433.5" r="2" fill="#a0a0a0"/>
<g stroke="#000" stroke-width="1" fill="none" shape-rendering="crispEdges">
<path d="M48.5,0.5 H999.5 V721.5 H48.5 Z"/>
<path d="M36,34.5 H48"/>
<path d="M36,121.5 H48"/>
<path d="M36,207.5 H48"/>
<path d="M36,294.5 H48"/>
<path d="M36,380.5 H48"/>
<path d="M36,467.5 H48"/>
<path d="M36,554.5 H48"/>
<path d="M36,640.5 H48"/>
<path d="M55.5,721 V734"/>
<path d="M142.5,721 V734"/>
<path d="M228.5,721 V734"/>
<path d="M315.5,721 V734"/>
<path d="M401.5,721 V734"/>
<path d="M488.5,721 V734"/>
<path d="M575.5,721 V734"/>
<path d="M661.5,721 V734"/>
<path d="M748.5,721 V734"/>
<path d="M834.5,721 V734"/>
<path d="M921.5,721 V734"/>
</g>
<g font-family="Liberation Sans, Arial, sans-serif" font-size="16" fill="#000">
<text x="33" y="40" text-anchor="end" letter-spacing="0.5">41</text>
<text x="33" y="127" text-anchor="end" letter-spacing="0.5">40.8</text>
<text x="33" y="213" text-anchor="end" letter-spacing="0.5">40.6</text>
<text x="33" y="300" text-anchor="end" letter-spacing="0.5">40.4</text>
<text x="33" y="386" text-anchor="end" letter-spacing="0.5">40.2</text>
<text x="33" y="473" text-anchor="end" letter-spacing="0.5">40</text>
<text x="33" y="560" text-anchor="end" letter-spacing="0.5">39.8</text>
<text x="33" y="646" text-anchor="end" letter-spacing="0.5">39.6</text>
<text x="55.7" y="750.5" text-anchor="middle" letter-spacing="0.7">115.4</text>
<text x="142.3" y="750.5" text-anchor="middle" letter-spacing="0.7">115.6</text>
<text x="228.9" y="750.5" text-anchor="middle" letter-spacing="0.7">115.8</text>
<text x="315.5" y="750.5" text-anchor="middle" letter-spacing="0.7">116</text>
<text x="402.1" y="750.5" text-anchor="middle" letter-spacing="0.7">116.2</text>
<text x="488.7" y="750.5" text-anchor="middle" letter-spacing="0.7">116.4</text>
<text x="575.3" y="750.5" text-anchor="middle" letter-spacing="0.7">116.6</text>
<text x="661.9" y="750.5" text-anchor="middle" letter-spacing="0.7">116.8</text>
<text x="748.5" y="750.5" text-anchor="middle" letter-spacing="0.7">117</text>
<text x="835.1" y="750.5" text-anchor="middle" letter-spacing="0.7">117.2</text>
<text x="921.7" y="750.5" text-anchor="middle" letter-spacing="0.7">117.4</text>
</g>
<rect x="939.5" y="349.0" width="22" height="32.8" fill="#640f00" stroke="#000" stroke-width="1.2"/>
<text x="963" y="372.4" font-family="Liberation Serif, Noto Serif CJK SC, serif" font-size="16" fill="#000">12级</text>
<rect x="939.5" y="381.8" width="22" height="32.8" fill="#9b0000" stroke="#000" stroke-width="1.2"/>
<text x="963" y="405.2" font-family="Liberation Serif, Noto Serif CJK SC, serif" font-size="16" fill="#000">11级</text>
<rect x="939.5" y="414.6" width="22" height="32.8" fill="#dc0032" stroke="#000" stroke-width="1.2"/>
<text x="963" y="438.0" font-family="Liberation Serif, Noto Serif CJK SC, serif" font-size="16" fill="#000">10级</text>
<rect x="939.5" y="447.4" width="22" height="32.8" fill="#f54b19" stroke="#000" stroke-width="1.2"/>
<text x="963" y="470.8" font-family="Liberation Serif, Noto Serif CJK SC, serif" font-size="16" fill="#000">9级</text>
<rect x="939.5" y="480.2" width="22" height="32.8" fill="#f57d0a" stroke="#000" stroke-width="1.2"/>
<text x="963" y="503.6" font-family="Liberation Serif, Noto Serif CJK SC, serif" font-size="16" fill="#000">8级</text>
<rect x="939.5" y="513.0" width="22" height="32.8" fill="#dcb900" stroke="#000" stroke-width="1.2"/>
<text x="963" y="536.4" font-family="Liberation Serif, Noto Serif CJK SC, serif" font-size="16" fill="#000">7级</text>
<rect x="939.5" y="545.8" width="22" height="32.8" fill="#96b900" stroke="#000" stroke-width="1.2"/>
<text x="963" y="569.2" font-family="Liberation Serif, Noto Serif CJK SC, serif" font-size="16" fill="#000">6级</text>
<rect x="939.5" y="578.6" width="22" height="32.8" fill="#00b4a0" stroke="#000" stroke-width="1.2"/>
<text x="963" y="602.0" font-family="Liberation Serif, Noto Serif CJK SC, serif" font-size="16" fill="#000">5级</text>
<rect x="939.5" y="611.4" width="22" height="32.8" fill="#2d9be6" stroke="#000" stroke-width="1.2"/>
<text x="963" y="634.8" font-family="Liberation Serif, Noto Serif CJK SC, serif" font-size="16" fill="#000">4级</text>
<rect x="939.5" y="644.2" width="22" height="32.8" fill="#82c8fa" stroke="#000" stroke-width="1.2"/>
<text x="963" y="667.6" font-family="Liberation Serif, Noto Serif CJK SC, serif" font-size="16" fill="#000">3级</text>
<rect x="939.5" y="677.0" width="22" height="32.8" fill="#bee6ff" stroke="#000" stroke-width="1.2"/>
<text x="963" y="700.4" font-family="Liberation Serif, Noto Serif CJK SC, serif" font-size="16" fill="#000">2级</text>
<text x="223.5" y="36" text-anchor="middle" font-family="Liberation Sans, Noto Sans CJK SC, sans-serif" font-size="30.6" font-weight="500" fill="#ff0000">北京市极大风图</text>
<text x="60" y="67" font-family="Liberation Serif, Noto Serif CJK SC, serif" font-size="24" fill="#000">25日06时00分</text>
<text x="217.5" y="65" font-family="Liberation Serif, Noto Serif CJK SC, serif" font-size="24" fill="#000">–</text>
<text x="242" y="67" font-family="Liberation Serif, Noto Serif CJK SC, serif" font-size="24" fill="#000">25日07时50分</text>
<text x="114" y="93" font-family="Liberation Serif, Noto Serif CJK SC, serif" font-size="21" letter-spacing="1" fill="#000">北京市气象数据中心制</text>
<circle cx="932" cy="67" r="61.5" fill="#dde3ea"/>
<circle cx="932" cy="67" r="60" fill="url(#lg)"/>
<path id="arcE" d="M901.61,107.33 A50.5,50.5 0 1 1 969.53,33.21" fill="none"/>
<text font-family="Liberation Sans, Arial, sans-serif" font-weight="bold" font-size="8.6" fill="#fff"><textPath href="#arcE" textLength="166.3" lengthAdjust="spacing">BEIJING METEOROLOGICAL SERVICE</textPath></text>
<path id="arcC" d="M907.67,116.88 A55.5,55.5 0 0 0 973.24,104.14" fill="none"/>
<text font-family="Noto Sans CJK SC, sans-serif" font-weight="bold" font-size="8.5" fill="#fff"><textPath href="#arcC" textLength="63.7" lengthAdjust="spacing">北京市气象局</textPath></text>
<g fill="#fff" stroke="none">
<rect x="918.2" y="26" width="2.2" height="83.5"/>
<path d="M918.5,26 C922,25 925.5,26 925.5,31 C925.5,38 926,43 931,46 C938,49.5 948,50 953,56 C956,60.5 952,64 948.5,66.5 C950.5,63.5 952.5,60.5 949.5,57.5 C945,53 934,51.5 928.5,48 C923.5,44.5 923,39 923,32 C923,28.5 921,28 918.5,28 Z"/>
<path d="M919,66.5 C935,66.5 952,69 961,74.5 C966,77.5 967.5,81.5 965,85.5 C965.5,82 963.5,79.5 959,77 C950,72.5 935,70 919,69.5 Z"/>
<path d="M919,83.5 C938,84 957,87 968,91 C973,93 975.5,95 975.5,97 C973.5,95.5 970,94 965,93 C953,90.5 937,88 919,87 Z"/>
<path d="M895.5,53.2 L909.5,57.3 L895.5,61.7 Z"/>
</g>
<line x1="909" y1="57.3" x2="932" y2="57.3" stroke="#fff" stroke-width="0.9"/>
<path d="M930.5,54.8 L939.5,57.4 L930.5,60 Z" fill="#e8101a"/>
<g opacity="0.75">
<text x="866" y="742.5" font-family="Liberation Sans, Noto Sans CJK SC, sans-serif" font-weight="bold" font-size="24.5" letter-spacing="0.9" fill="#c9c9c9" stroke="#ffffff" stroke-width="2.2" paint-order="stroke">@气象北京</text>
<ellipse cx="838" cy="734" rx="12.5" ry="8.5" fill="none" stroke="#fff" stroke-width="4"/>
<ellipse cx="838" cy="734" rx="12.5" ry="8.5" fill="#e6e6e6" stroke="#c4c4c4" stroke-width="2"/>
<ellipse cx="837" cy="735.5" rx="5.5" ry="4" fill="none" stroke="#bdbdbd" stroke-width="1.6"/>
<path d="M848,721 A10,10 0 0 1 858,731" fill="none" stroke="#c4c4c4" stroke-width="2.2"/>
<path d="M847,725.5 A5.5,5.5 0 0 1 853,731" fill="none" stroke="#c4c4c4" stroke-width="2"/>
</g>
</svg>
</body></html>
